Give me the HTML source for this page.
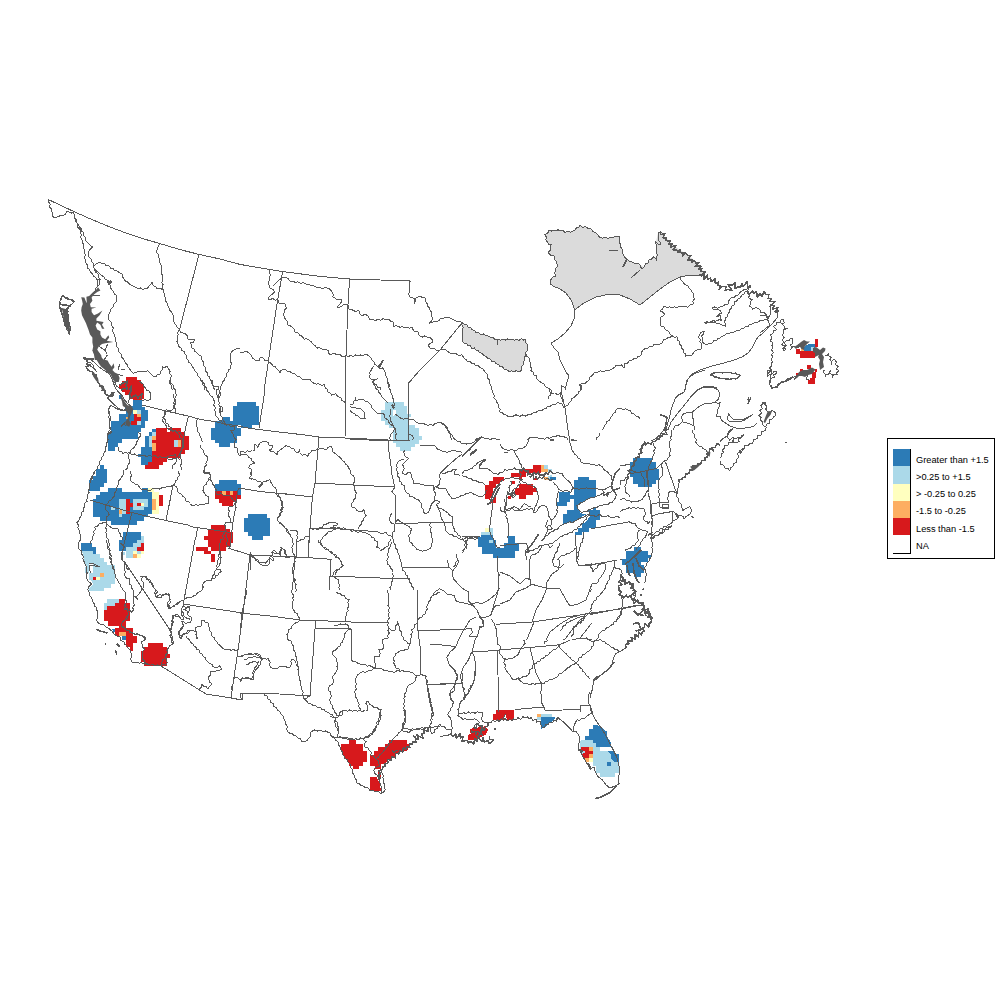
<!DOCTYPE html>
<html><head><meta charset="utf-8"><title>map</title>
<style>
html,body{margin:0;padding:0;background:#fff;}
body{width:1000px;height:1000px;position:relative;overflow:hidden;font-family:"Liberation Sans",sans-serif;}
</style></head><body>
<svg width="1000" height="1000" viewBox="0 0 1000 1000" style="position:absolute;left:0;top:0">
<path d="M126.0 377.0 L137.0 377.0 L137.0 380.0 L141.0 380.0 L141.0 384.0 L144.0 384.0 L144.0 399.0 L142.0 399.0 L142.0 402.0 L133.0 402.0 L133.0 399.0 L130.0 399.0 L130.0 395.0 L125.0 395.0 L125.0 391.5 L122.0 391.5 L122.0 388.5 L119.0 388.5 L119.0 384.5 L122.0 384.5 L122.0 380.5 L126.0 380.5 Z" fill="#d7191c" shape-rendering="crispEdges"/>
<path d="M133.0 400.0 L142.0 400.0 L142.0 406.5 L144.5 406.5 L144.5 410.0 L148.0 410.0 L148.0 421.0 L144.5 421.0 L144.5 428.0 L141.0 428.0 L141.0 432.0 L138.0 432.0 L138.0 439.0 L122.0 439.0 L122.0 443.0 L118.0 443.0 L118.0 447.0 L115.0 447.0 L115.0 450.5 L107.5 450.5 L107.5 432.0 L111.0 432.0 L111.0 421.0 L119.0 421.0 L119.0 414.0 L126.0 414.0 L126.0 410.0 L125.0 410.0 L125.0 406.0 L133.0 406.0 Z" fill="#2c7bb6" shape-rendering="crispEdges"/>
<path d="M119.0 395.0 L122.0 395.0 L122.0 398.5 L119.0 398.5 Z" fill="#2c7bb6" shape-rendering="crispEdges"/>
<path d="M133.0 410.0 L137.0 410.0 L137.0 414.0 L133.0 414.0 Z" fill="#ffffbf" shape-rendering="crispEdges"/>
<path d="M137.0 410.0 L141.0 410.0 L141.0 414.0 L137.0 414.0 Z" fill="#abd9e9" shape-rendering="crispEdges"/>
<path d="M137.0 414.0 L141.0 414.0 L141.0 417.0 L137.0 417.0 Z" fill="#fdae61" shape-rendering="crispEdges"/>
<path d="M134.0 414.0 L137.0 414.0 L137.0 417.0 L141.0 417.0 L141.0 421.0 L137.0 421.0 L137.0 425.0 L131.0 425.0 L131.0 421.0 L134.0 421.0 Z" fill="#d7191c" shape-rendering="crispEdges"/>
<path d="M137.0 421.0 L141.0 421.0 L141.0 425.0 L137.0 425.0 Z" fill="#abd9e9" shape-rendering="crispEdges"/>
<path d="M126.0 416.5 L128.5 416.5 L128.5 419.0 L126.0 419.0 Z" fill="#fdae61" shape-rendering="crispEdges"/>
<path d="M156.0 428.0 L181.0 428.0 L181.0 432.0 L184.5 432.0 L184.5 436.0 L189.0 436.0 L189.0 450.0 L184.5 450.0 L184.5 454.0 L181.0 454.0 L181.0 458.0 L166.5 458.0 L166.5 461.5 L163.0 461.5 L163.0 465.0 L159.0 465.0 L159.0 468.5 L144.5 468.5 L144.5 465.0 L148.0 465.0 L148.0 461.5 L152.0 461.5 L152.0 432.0 L156.0 432.0 Z" fill="#d7191c" shape-rendering="crispEdges"/>
<path d="M167.0 428.5 L170.0 428.5 L170.0 431.5 L167.0 431.5 Z" fill="#ffffff" shape-rendering="crispEdges"/>
<path d="M152.0 428.5 L156.0 428.5 L156.0 432.0 L152.0 432.0 Z" fill="#2c7bb6" shape-rendering="crispEdges"/>
<path d="M148.5 432.0 L152.0 432.0 L152.0 436.0 L148.5 436.0 Z" fill="#2c7bb6" shape-rendering="crispEdges"/>
<path d="M152.0 432.0 L156.0 432.0 L156.0 436.0 L152.0 436.0 Z" fill="#abd9e9" shape-rendering="crispEdges"/>
<path d="M144.5 436.0 L148.5 436.0 L148.5 447.0 L144.5 447.0 Z" fill="#2c7bb6" shape-rendering="crispEdges"/>
<path d="M148.5 436.0 L152.0 436.0 L152.0 447.0 L148.5 447.0 Z" fill="#abd9e9" shape-rendering="crispEdges"/>
<path d="M152.0 436.0 L156.0 436.0 L156.0 440.0 L152.0 440.0 Z" fill="#fdae61" shape-rendering="crispEdges"/>
<path d="M152.0 443.0 L156.0 443.0 L156.0 450.5 L152.0 450.5 Z" fill="#fdae61" shape-rendering="crispEdges"/>
<path d="M141.0 447.0 L152.0 447.0 L152.0 465.0 L141.0 465.0 L141.0 457.0 L137.5 457.0 L137.5 454.0 L141.0 454.0 Z" fill="#2c7bb6" shape-rendering="crispEdges"/>
<path d="M148.0 461.5 L152.0 461.5 L152.0 465.0 L148.0 465.0 Z" fill="#d7191c" shape-rendering="crispEdges"/>
<path d="M174.0 440.0 L178.0 440.0 L178.0 447.0 L174.0 447.0 Z" fill="#abd9e9" shape-rendering="crispEdges"/>
<path d="M178.0 440.0 L181.0 440.0 L181.0 447.0 L178.0 447.0 Z" fill="#fdae61" shape-rendering="crispEdges"/>
<path d="M100.0 465.0 L104.0 465.0 L104.0 468.5 L107.0 468.5 L107.0 470.0 L97.0 470.0 L97.0 468.5 L100.0 468.5 Z" fill="#2c7bb6" shape-rendering="crispEdges"/>
<path d="M100.0 465.0 L104.0 465.0 L104.0 469.0 L107.0 469.0 L107.0 483.0 L104.0 483.0 L104.0 487.0 L100.0 487.0 L100.0 490.5 L89.0 490.5 L89.0 480.0 L93.0 480.0 L93.0 476.0 L96.0 476.0 L96.0 469.0 L100.0 469.0 Z" fill="#2c7bb6" shape-rendering="crispEdges"/>
<path d="M107.5 488.0 L122.0 488.0 L122.0 491.5 L141.5 491.5 L141.5 488.0 L148.0 488.0 L148.0 491.5 L152.0 491.5 L152.0 514.0 L148.0 514.0 L148.0 517.0 L144.0 517.0 L144.0 520.5 L137.0 520.5 L137.0 524.5 L111.0 524.5 L111.0 520.5 L100.0 520.5 L100.0 516.5 L93.0 516.5 L93.0 499.0 L96.0 499.0 L96.0 495.0 L100.0 495.0 L100.0 491.5 L107.5 491.5 Z" fill="#2c7bb6" shape-rendering="crispEdges"/>
<path d="M119.0 499.0 L126.0 499.0 L126.0 514.0 L122.0 514.0 L122.0 517.0 L119.0 517.0 Z" fill="#abd9e9" shape-rendering="crispEdges"/>
<path d="M126.0 499.0 L130.0 499.0 L130.0 503.0 L133.0 503.0 L133.0 506.5 L130.0 506.5 L130.0 514.0 L126.0 514.0 Z" fill="#d7191c" shape-rendering="crispEdges"/>
<path d="M133.0 499.0 L148.0 499.0 L148.0 506.5 L144.0 506.5 L144.0 510.0 L133.0 510.0 Z" fill="#abd9e9" shape-rendering="crispEdges"/>
<path d="M137.0 503.0 L141.0 503.0 L141.0 506.0 L137.0 506.0 Z" fill="#d7191c" shape-rendering="crispEdges"/>
<path d="M141.0 503.0 L144.0 503.0 L144.0 506.0 L141.0 506.0 Z" fill="#ffffbf" shape-rendering="crispEdges"/>
<path d="M119.0 510.0 L122.0 510.0 L122.0 514.0 L119.0 514.0 Z" fill="#fdae61" shape-rendering="crispEdges"/>
<path d="M111.0 506.5 L115.0 506.5 L115.0 510.0 L111.0 510.0 Z" fill="#abd9e9" shape-rendering="crispEdges"/>
<path d="M148.0 488.0 L154.0 488.0 L154.0 491.5 L159.0 491.5 L159.0 514.0 L152.0 514.0 L152.0 491.5 L148.0 491.5 Z" fill="#ffffbf" shape-rendering="crispEdges"/>
<path d="M152.0 499.0 L156.0 499.0 L156.0 510.0 L152.0 510.0 Z" fill="#fdae61" shape-rendering="crispEdges"/>
<path d="M159.0 495.0 L163.0 495.0 L163.0 506.0 L159.0 506.0 Z" fill="#d7191c" shape-rendering="crispEdges"/>
<path d="M122.5 532.0 L141.0 532.0 L141.0 539.5 L137.0 539.5 L137.0 543.0 L133.0 543.0 L133.0 547.0 L126.0 547.0 L126.0 551.0 L119.0 551.0 L119.0 540.0 L122.5 540.0 Z" fill="#2c7bb6" shape-rendering="crispEdges"/>
<path d="M141.0 536.0 L144.0 536.0 L144.0 543.0 L141.0 543.0 L141.0 547.0 L137.0 547.0 L137.0 554.0 L133.0 554.0 L133.0 558.0 L126.0 558.0 L126.0 547.0 L133.0 547.0 L133.0 543.0 L137.0 543.0 L137.0 539.5 L141.0 539.5 Z" fill="#abd9e9" shape-rendering="crispEdges"/>
<path d="M141.0 543.0 L144.0 543.0 L144.0 551.0 L137.0 551.0 L137.0 547.0 L141.0 547.0 Z" fill="#d7191c" shape-rendering="crispEdges"/>
<path d="M133.0 551.0 L137.0 551.0 L137.0 554.0 L133.0 554.0 Z" fill="#ffffbf" shape-rendering="crispEdges"/>
<path d="M137.0 551.0 L141.0 551.0 L141.0 554.0 L137.0 554.0 Z" fill="#abd9e9" shape-rendering="crispEdges"/>
<path d="M141.0 551.0 L144.0 551.0 L144.0 554.0 L141.0 554.0 Z" fill="#ffffbf" shape-rendering="crispEdges"/>
<path d="M133.0 554.0 L137.0 554.0 L137.0 558.0 L133.0 558.0 Z" fill="#fdae61" shape-rendering="crispEdges"/>
<path d="M137.0 554.0 L141.0 554.0 L141.0 558.0 L137.0 558.0 Z" fill="#ffffbf" shape-rendering="crispEdges"/>
<path d="M122.0 551.5 L124.5 551.5 L124.5 554.5 L122.0 554.5 Z" fill="#abd9e9" shape-rendering="crispEdges"/>
<path d="M90.0 547.0 L96.0 547.0 L96.0 554.0 L93.0 554.0 L93.0 551.0 L90.0 551.0 Z" fill="#2c7bb6" shape-rendering="crispEdges"/>
<path d="M81.0 543.0 L92.0 543.0 L92.0 547.0 L96.0 547.0 L96.0 554.0 L93.0 554.0 L93.0 550.5 L81.0 550.5 Z" fill="#2c7bb6" shape-rendering="crispEdges"/>
<path d="M82.0 550.5 L93.0 550.5 L93.0 554.0 L100.0 554.0 L100.0 558.0 L103.5 558.0 L103.5 561.5 L107.0 561.5 L107.0 565.0 L115.0 565.0 L115.0 584.0 L111.0 584.0 L111.0 587.5 L104.0 587.5 L104.0 591.0 L89.0 591.0 L89.0 588.0 L93.0 584.0 L91.0 580.0 L89.0 580.0 L89.0 573.0 L85.0 573.0 L85.0 569.0 L86.0 565.0 L84.0 560.0 L83.0 555.0 Z" fill="#abd9e9" shape-rendering="crispEdges"/>
<path d="M89.0 563.5 L92.5 563.5 L93.0 573.0 L89.5 573.0 Z" fill="#ffffff" shape-rendering="crispEdges"/>
<path d="M100.0 573.0 L104.0 573.0 L104.0 577.0 L100.0 577.0 Z" fill="#fdae61" shape-rendering="crispEdges"/>
<path d="M93.0 577.0 L96.0 577.0 L96.0 580.0 L93.0 580.0 Z" fill="#d7191c" shape-rendering="crispEdges"/>
<path d="M96.0 577.0 L100.0 577.0 L100.0 580.0 L96.0 580.0 Z" fill="#ffffbf" shape-rendering="crispEdges"/>
<path d="M119.0 599.0 L125.0 599.0 L125.0 603.0 L130.0 603.0 L130.0 621.0 L126.0 621.0 L126.0 625.5 L107.5 625.5 L107.5 621.0 L104.0 621.0 L104.0 610.0 L107.0 610.0 L107.0 606.0 L115.0 606.0 L115.0 603.0 L119.0 603.0 Z" fill="#d7191c" shape-rendering="crispEdges"/>
<path d="M107.0 599.0 L119.0 599.0 L119.0 603.0 L115.0 603.0 L115.0 606.0 L107.0 606.0 L107.0 610.0 L104.0 610.0 L104.0 603.0 L107.0 603.0 Z" fill="#abd9e9" shape-rendering="crispEdges"/>
<path d="M115.0 628.0 L119.0 628.0 L119.0 625.0 L126.0 625.0 L126.0 628.0 L133.0 628.0 L133.0 636.0 L137.0 636.0 L137.0 643.0 L133.0 643.0 L133.0 651.0 L130.0 651.0 L130.0 647.0 L126.0 647.0 L126.0 632.0 L119.0 632.0 L119.0 635.5 L115.0 635.5 Z" fill="#d7191c" shape-rendering="crispEdges"/>
<path d="M119.0 632.0 L126.0 632.0 L126.0 636.0 L119.0 636.0 Z" fill="#fdae61" shape-rendering="crispEdges"/>
<path d="M122.0 636.0 L126.0 636.0 L126.0 640.0 L122.0 640.0 Z" fill="#2c7bb6" shape-rendering="crispEdges"/>
<path d="M111.5 628.5 L115.0 628.5 L115.0 632.0 L113.5 632.0 Z" fill="#2c7bb6" shape-rendering="crispEdges"/>
<path d="M148.0 643.0 L163.0 643.0 L163.0 647.0 L167.0 647.0 L167.0 654.0 L170.0 654.0 L170.0 658.0 L167.0 658.0 L167.0 666.0 L144.0 666.0 L144.0 662.0 L141.0 662.0 L141.0 651.0 L144.0 651.0 L144.0 647.0 L148.0 647.0 Z" fill="#d7191c" shape-rendering="crispEdges"/>
<path d="M237.0 402.0 L256.0 402.0 L256.0 406.0 L259.0 406.0 L259.0 424.5 L252.0 424.5 L252.0 428.0 L241.0 428.0 L241.0 424.5 L233.0 424.5 L233.0 406.0 L237.0 406.0 Z" fill="#2c7bb6" shape-rendering="crispEdges"/>
<path d="M222.0 417.0 L230.0 417.0 L230.0 421.0 L233.0 421.0 L233.0 424.5 L241.0 424.5 L241.0 435.5 L237.0 435.5 L237.0 443.0 L230.0 443.0 L230.0 446.5 L219.0 446.5 L219.0 443.0 L215.0 443.0 L215.0 439.5 L211.0 439.5 L211.0 428.0 L215.0 428.0 L215.0 421.0 L222.0 421.0 Z" fill="#2c7bb6" shape-rendering="crispEdges"/>
<path d="M237.2 425.2 L241.0 425.2 L241.0 427.8 L237.2 427.8 Z" fill="#ffffff" shape-rendering="crispEdges"/>
<path d="M219.0 480.0 L237.0 480.0 L237.0 484.0 L241.0 484.0 L241.0 495.0 L237.0 495.0 L237.0 491.0 L215.0 491.0 L215.0 484.0 L219.0 484.0 Z" fill="#2c7bb6" shape-rendering="crispEdges"/>
<path d="M215.0 491.0 L237.0 491.0 L237.0 495.0 L241.0 495.0 L241.0 498.5 L237.0 498.5 L237.0 502.0 L233.0 502.0 L233.0 506.0 L222.0 506.0 L222.0 502.5 L219.0 502.5 L219.0 498.5 L215.0 498.5 Z" fill="#d7191c" shape-rendering="crispEdges"/>
<path d="M222.0 491.0 L226.0 491.0 L226.0 494.5 L222.0 494.5 Z" fill="#fdae61" shape-rendering="crispEdges"/>
<path d="M230.0 491.0 L233.0 491.0 L233.0 494.5 L230.0 494.5 Z" fill="#fdae61" shape-rendering="crispEdges"/>
<path d="M248.0 514.0 L267.0 514.0 L267.0 517.5 L270.0 517.5 L270.0 536.0 L263.0 536.0 L263.0 540.0 L252.0 540.0 L252.0 536.0 L248.0 536.0 L248.0 532.0 L244.0 532.0 L244.0 517.5 L248.0 517.5 Z" fill="#2c7bb6" shape-rendering="crispEdges"/>
<path d="M211.0 525.0 L225.5 525.0 L225.5 528.5 L230.0 528.5 L230.0 532.0 L233.0 532.0 L233.0 543.0 L230.0 543.0 L230.0 547.0 L226.0 547.0 L226.0 551.0 L211.0 551.0 L211.0 547.0 L207.5 547.0 L207.5 540.0 L204.0 540.0 L204.0 536.0 L207.5 536.0 L207.5 528.5 L211.0 528.5 Z" fill="#d7191c" shape-rendering="crispEdges"/>
<path d="M196.0 547.0 L207.5 547.0 L207.5 551.0 L196.0 551.0 Z" fill="#d7191c" shape-rendering="crispEdges"/>
<path d="M204.0 551.0 L211.0 551.0 L211.0 554.0 L204.0 554.0 Z" fill="#d7191c" shape-rendering="crispEdges"/>
<path d="M211.0 554.0 L215.0 554.0 L215.0 562.0 L211.0 562.0 Z" fill="#d7191c" shape-rendering="crispEdges"/>
<path d="M385.0 402.0 L404.0 402.0 L404.0 406.0 L407.0 406.0 L407.0 414.0 L411.0 414.0 L411.0 417.0 L408.0 417.0 L408.0 425.0 L415.0 425.0 L415.0 428.0 L419.0 428.0 L419.0 436.0 L422.0 436.0 L422.0 440.0 L419.0 440.0 L419.0 444.0 L415.0 444.0 L415.0 447.0 L411.0 447.0 L411.0 451.0 L400.0 451.0 L400.0 447.0 L396.0 447.0 L396.0 443.0 L393.0 443.0 L393.0 432.0 L394.0 428.0 L389.0 428.0 L389.0 425.0 L385.0 425.0 L385.0 421.0 L381.0 421.0 L381.0 410.0 L385.0 410.0 Z" fill="#abd9e9" shape-rendering="crispEdges"/>
<path d="M393.2 410.0 L396.0 410.0 L396.0 414.5 L393.5 416.0 Z" fill="#ffffff" shape-rendering="crispEdges"/>
<path d="M493.0 477.0 L504.0 477.0 L504.0 481.0 L500.0 481.0 L500.0 484.0 L496.0 484.0 L496.0 488.0 L493.0 488.0 L493.0 492.0 L496.0 492.0 L496.0 502.5 L489.0 502.5 L489.0 499.0 L485.0 499.0 L485.0 484.5 L489.0 484.5 L489.0 480.5 L493.0 480.5 Z" fill="#d7191c" shape-rendering="crispEdges"/>
<path d="M504.0 481.0 L504.0 483.0 L498.0 490.0 L495.0 496.0 L490.0 503.0 L487.0 504.5 L493.0 494.0 L496.0 488.0 L500.0 484.0 Z" fill="#ffffff" shape-rendering="crispEdges"/>
<path d="M511.0 473.0 L519.0 473.0 L519.0 469.0 L533.0 469.0 L533.0 465.0 L541.0 465.0 L541.0 473.0 L526.0 473.0 L526.0 477.0 L522.0 477.0 L522.0 480.0 L519.0 480.0 L519.0 477.0 L511.0 477.0 Z" fill="#d7191c" shape-rendering="crispEdges"/>
<path d="M541.0 465.0 L544.0 465.0 L544.0 468.5 L548.0 468.5 L548.0 472.0 L541.0 472.0 Z" fill="#fdae61" shape-rendering="crispEdges"/>
<path d="M544.0 465.0 L548.0 465.0 L548.0 468.5 L552.0 468.5 L552.0 472.0 L548.0 472.0 L548.0 468.5 L544.0 468.5 Z" fill="#abd9e9" shape-rendering="crispEdges"/>
<path d="M511.5 480.5 L514.5 480.5 L514.5 484.0 L511.5 484.0 Z" fill="#d7191c" shape-rendering="crispEdges"/>
<path d="M519.0 484.0 L533.0 484.0 L533.0 488.0 L537.0 488.0 L537.0 491.5 L533.0 491.5 L533.0 495.0 L526.0 495.0 L526.0 499.0 L519.0 499.0 L519.0 495.0 L515.0 495.0 L515.0 488.0 L519.0 488.0 Z" fill="#d7191c" shape-rendering="crispEdges"/>
<path d="M508.0 495.5 L511.0 495.5 L511.0 499.0 L508.0 499.0 Z" fill="#d7191c" shape-rendering="crispEdges"/>
<path d="M533.5 478.0 L537.0 478.0 L537.0 480.0 L533.5 480.0 Z" fill="#d7191c" shape-rendering="crispEdges"/>
<path d="M544.0 476.5 L548.0 476.5 L548.0 480.0 L544.0 480.0 Z" fill="#fdae61" shape-rendering="crispEdges"/>
<path d="M548.0 475.0 L552.0 475.0 L552.0 480.0 L548.0 480.0 Z" fill="#abd9e9" shape-rendering="crispEdges"/>
<path d="M553.5 477.0 L556.0 477.0 L556.0 480.0 L553.5 480.0 Z" fill="#2c7bb6" shape-rendering="crispEdges"/>
<path d="M528.0 473.2 L550.0 473.2 L550.0 476.2 L528.0 476.2 Z" fill="#ffffff" shape-rendering="crispEdges"/>
<path d="M481.0 537.0 L481.0 535.0 L493.0 535.0 L493.0 540.0 L496.0 540.0 L496.0 547.5 L504.0 547.5 L504.0 543.0 L507.5 543.0 L507.5 536.0 L515.0 536.0 L515.0 543.0 L519.0 543.0 L519.0 551.0 L515.0 551.0 L515.0 558.0 L493.0 558.0 L493.0 554.0 L482.0 554.0 L482.0 547.0 L478.0 547.0 L478.0 537.0 Z" fill="#2c7bb6" shape-rendering="crispEdges"/>
<path d="M481.0 532.0 L489.0 532.0 L489.0 528.0 L493.0 528.0 L493.0 535.0 L481.0 535.0 Z" fill="#abd9e9" shape-rendering="crispEdges"/>
<path d="M485.0 528.0 L489.0 528.0 L489.0 532.0 L485.0 532.0 Z" fill="#ffffbf" shape-rendering="crispEdges"/>
<path d="M489.0 540.0 L492.5 540.0 L492.5 543.0 L489.0 543.0 Z" fill="#abd9e9" shape-rendering="crispEdges"/>
<path d="M578.2 477.2 L589.0 477.2 L589.0 480.2 L596.2 480.2 L596.2 496.4 L589.0 499.4 L584.8 503.0 L580.0 506.0 L574.0 506.0 L574.0 498.8 L569.8 498.8 L569.8 502.4 L566.8 502.4 L566.8 506.0 L557.2 506.0 L557.2 502.4 L559.0 502.4 L559.0 491.6 L569.8 491.6 L569.8 494.6 L574.0 494.6 L574.0 480.2 L578.2 480.2 Z" fill="#2c7bb6" shape-rendering="crispEdges"/>
<path d="M566.8 510.2 L574.0 510.2 L574.0 506.0 L580.0 506.0 L580.0 513.2 L586.0 514.4 L574.0 521.6 L574.0 524.6 L563.2 524.6 L563.2 513.8 L566.8 513.8 Z" fill="#2c7bb6" shape-rendering="crispEdges"/>
<path d="M593.2 506.6 L596.2 506.6 L596.2 510.2 L599.8 510.2 L599.8 519.8 L596.2 519.8 L596.2 528.2 L589.0 528.2 L589.0 531.8 L581.8 531.8 L581.8 535.4 L575.2 535.4 L575.2 531.8 L578.2 531.8 L578.2 528.2 L581.8 528.2 L581.8 524.6 L586.0 521.6 L589.6 516.8 L588.4 512.0 L588.4 510.2 L593.2 510.2 Z" fill="#2c7bb6" shape-rendering="crispEdges"/>
<path d="M633.4 458.0 L652.0 458.0 L652.0 461.6 L655.6 461.6 L655.6 468.8 L659.2 468.8 L659.2 480.2 L655.6 480.2 L655.6 483.8 L652.0 483.8 L652.0 487.4 L637.6 487.4 L637.6 483.8 L633.4 483.8 L633.4 476.6 L629.8 476.6 L629.8 461.6 L633.4 461.6 Z" fill="#2c7bb6" shape-rendering="crispEdges"/>
<path d="M550.0 469.4 L551.8 469.4 L551.8 472.4 L550.0 472.4 Z" fill="#abd9e9" shape-rendering="crispEdges"/>
<path d="M550.0 477.2 L555.4 477.2 L555.4 479.6 L550.0 479.6 Z" fill="#2c7bb6" shape-rendering="crispEdges"/>
<path d="M633.5 547.0 L641.0 547.0 L641.0 551.0 L648.0 551.0 L648.0 554.5 L651.0 554.5 L651.0 558.0 L648.0 558.0 L648.0 562.0 L641.0 562.0 L641.0 565.0 L644.0 565.0 L644.0 573.0 L641.0 573.0 L641.0 577.0 L634.0 577.0 L634.0 573.0 L626.0 573.0 L626.0 565.0 L622.0 565.0 L622.0 558.5 L626.0 558.5 L626.0 551.0 L633.5 551.0 Z" fill="#2c7bb6" shape-rendering="crispEdges"/>
<path d="M590.0 520.0 L596.0 520.0 L596.0 527.5 L590.0 528.0 Z" fill="#2c7bb6" shape-rendering="crispEdges"/>
<path d="M348.5 740.0 L356.0 740.0 L356.0 743.5 L363.0 743.5 L363.0 751.0 L367.0 751.0 L367.0 762.0 L363.0 762.0 L363.0 765.5 L359.0 765.5 L359.0 769.0 L352.5 769.0 L352.5 765.5 L348.5 765.5 L348.5 762.0 L345.0 758.0 L342.0 754.0 L341.0 750.0 L341.0 743.5 L348.5 743.5 Z" fill="#d7191c" shape-rendering="crispEdges"/>
<path d="M389.0 740.0 L407.0 740.0 L407.0 743.5 L411.0 743.5 L409.0 747.0 L407.0 751.0 L404.0 751.0 L400.0 752.0 L396.0 754.0 L396.0 757.5 L392.0 758.0 L389.0 760.0 L386.0 762.0 L384.0 764.0 L381.0 764.5 L381.0 769.0 L375.0 769.0 L375.0 766.0 L370.0 766.0 L370.0 756.0 L371.0 754.5 L374.0 754.5 L374.0 751.0 L378.0 751.0 L378.0 747.0 L385.0 747.0 L385.0 743.5 L389.0 743.5 Z" fill="#d7191c" shape-rendering="crispEdges"/>
<path d="M378.0 772.0 L381.0 772.0 L381.0 777.0 L378.0 777.0 Z" fill="#d7191c" shape-rendering="crispEdges"/>
<path d="M370.0 777.0 L377.0 777.0 L378.0 780.0 L380.0 784.0 L381.0 791.0 L370.0 791.0 Z" fill="#d7191c" shape-rendering="crispEdges"/>
<path d="M496.4 710.2 L514.4 710.2 L514.4 718.0 L512.0 720.4 L507.2 720.4 L505.4 714.4 L503.6 716.8 L503.6 720.4 L493.4 720.4 L493.4 714.4 L496.4 714.4 Z" fill="#d7191c" shape-rendering="crispEdges"/>
<path d="M470.0 728.8 L484.4 726.4 L488.0 730.0 L485.6 734.8 L480.8 737.2 L477.2 739.6 L467.6 739.6 L467.6 736.0 L470.6 733.6 Z" fill="#d7191c" shape-rendering="crispEdges"/>
<path d="M537.2 714.2 L540.8 714.2 L540.8 716.8 L537.2 716.8 Z" fill="#fdae61" shape-rendering="crispEdges"/>
<path d="M540.8 714.2 L552.2 714.2 L552.2 716.8 L540.8 716.8 L540.8 720.4 L537.2 720.4 L537.2 716.8 L540.8 716.8 Z" fill="#abd9e9" shape-rendering="crispEdges"/>
<path d="M540.8 716.8 L555.8 716.8 L553.4 720.4 L548.0 724.6 L544.4 727.6 L541.4 728.8 L540.8 724.0 Z" fill="#2c7bb6" shape-rendering="crispEdges"/>
<path d="M592.8 725.0 L597.6 725.0 L603.6 729.0 L607.2 732.0 L607.2 736.2 L610.8 742.8 L610.8 747.0 L596.4 747.0 L596.4 742.8 L592.8 742.8 L592.8 739.8 L585.0 739.8 L585.0 736.2 L589.2 736.2 L589.2 729.0 L592.8 729.0 Z" fill="#2c7bb6" shape-rendering="crispEdges"/>
<path d="M581.4 739.8 L592.8 739.8 L592.8 742.8 L596.4 742.8 L596.4 747.0 L600.0 747.0 L600.0 750.6 L607.2 750.6 L610.8 754.8 L610.8 758.4 L615.0 762.0 L618.6 762.0 L618.6 772.8 L615.0 772.8 L615.0 777.0 L600.0 777.0 L600.0 772.8 L596.4 772.8 L596.4 765.6 L592.8 765.6 L592.8 762.0 L585.0 762.0 L585.0 758.4 L581.4 754.8 L579.6 747.0 L579.6 742.8 Z" fill="#abd9e9" shape-rendering="crispEdges"/>
<path d="M600.0 747.0 L610.8 747.0 L613.2 750.6 L600.0 750.6 Z" fill="#ffffff" shape-rendering="crispEdges"/>
<path d="M607.2 750.6 L614.4 750.6 L615.0 754.2 L618.6 754.2 L618.6 762.0 L615.0 762.0 L610.8 758.4 L610.8 754.8 Z" fill="#2c7bb6" shape-rendering="crispEdges"/>
<path d="M607.2 762.0 L610.8 762.0 L610.8 765.6 L607.2 765.6 Z" fill="#2c7bb6" shape-rendering="crispEdges"/>
<path d="M581.4 747.0 L589.2 747.0 L589.2 750.6 L592.8 750.6 L592.8 754.2 L589.2 754.2 L589.2 758.4 L585.0 758.4 L583.2 757.2 L583.2 754.8 L581.4 754.8 L585.0 752.4 L585.0 750.6 L581.4 750.6 Z" fill="#d7191c" shape-rendering="crispEdges"/>
<path d="M589.2 747.0 L592.8 747.0 L592.8 750.6 L589.2 750.6 Z" fill="#fdae61" shape-rendering="crispEdges"/>
<path d="M589.2 754.2 L592.8 754.2 L592.8 758.4 L589.2 758.4 Z" fill="#fdae61" shape-rendering="crispEdges"/>
<path d="M585.0 758.4 L589.2 758.4 L589.2 762.0 L585.0 762.0 Z" fill="#fdae61" shape-rendering="crispEdges"/>
<path d="M589.2 758.4 L592.8 758.4 L592.8 762.0 L589.2 762.0 Z" fill="#ffffbf" shape-rendering="crispEdges"/>
<path d="M562.4 524.6 L567.2 522.8 L574.4 521.6 L578.0 519.2 L584.0 516.8 L588.8 514.4 L589.4 515.0 L586.4 519.2 L581.6 524.0 L576.8 528.8 L572.0 532.4 L567.2 534.2 L562.4 536.0 L557.6 539.6 L552.8 543.2 L557.6 528.8 Z" fill="#ffffff"/>
<path d="M576.8 505.4 L581.6 502.4 L588.8 498.8 L596.0 496.4 L602.0 494.0 L608.0 492.8 L608.0 504.8 L602.0 505.4 L594.8 507.2 L588.8 509.6 L584.0 512.0 L579.2 510.8 L578.0 509.0 Z" fill="#ffffff"/>
<path d="M549.0 230.6 L560.0 230.0 L565.0 232.4 L573.0 231.0 L580.0 225.6 L588.0 228.0 L593.0 231.0 L598.0 235.0 L600.0 237.6 L610.0 238.0 L616.0 236.0 L619.6 237.0 L619.0 240.0 L621.0 247.0 L623.0 254.0 L627.0 259.0 L632.0 262.0 L640.0 265.0 L640.0 305.0 L630.0 299.0 L620.0 295.0 L608.0 294.4 L596.0 297.0 L584.0 303.0 L574.4 310.0 L573.6 306.0 L571.0 300.0 L566.0 293.0 L560.0 289.0 L553.0 286.0 L550.0 282.0 L552.0 278.0 L556.0 276.0 L555.0 271.0 L558.0 266.0 L556.0 261.0 L554.0 256.0 L549.0 254.0 L551.0 245.0 L547.0 242.0 L545.0 235.0 Z" fill="#dbdbdb"/>
<path d="M462.4 322.4 L476.0 332.4 L488.0 336.0 L498.0 339.6 L510.0 339.6 L526.0 339.6 L527.6 348.0 L525.0 356.0 L521.0 371.0 L509.0 371.4 L500.0 366.0 L488.0 358.0 L476.0 350.0 L462.4 341.6 Z" fill="#dbdbdb"/>
<path d="M640.0 265.0 L644.0 267.0 L646.0 264.0 L651.0 259.0 L656.0 257.0 L657.0 250.0 L656.0 242.0 L658.0 233.0 L661.0 231.6 L666.0 238.0 L672.0 244.0 L680.0 250.0 L688.0 255.0 L696.0 262.0 L702.0 269.0 L704.0 276.0 L700.0 275.0 L690.0 275.0 L680.0 277.0 L670.0 282.0 L660.0 289.0 L650.0 297.0 L640.0 305.0 Z" fill="#dbdbdb"/>
<path d="M796.0 349.0 L800.0 349.0 L800.0 351.0 L815.0 351.0 L815.0 357.5 L800.0 357.5 L800.0 353.5 L796.0 353.5 Z" fill="#d7191c" shape-rendering="crispEdges"/>
<path d="M815.0 339.0 L817.8 339.0 L817.8 346.5 L815.0 346.5 Z" fill="#d7191c" shape-rendering="crispEdges"/>
<path d="M804.0 351.0 L804.0 347.0 L809.0 343.5 L815.0 343.5 L815.0 351.0 Z" fill="#2c7bb6" shape-rendering="crispEdges"/>
<path d="M811.0 347.2 L814.0 347.2 L814.0 351.0 L811.0 351.0 Z" fill="#abd9e9" shape-rendering="crispEdges"/>
<path d="M800.5 347.5 L804.0 347.5 L804.0 351.0 L800.5 351.0 Z" fill="#fdae61" shape-rendering="crispEdges"/>
<path d="M807.0 365.0 L811.0 365.0 L811.0 369.0 L807.0 369.0 Z" fill="#d7191c" shape-rendering="crispEdges"/>
<path d="M800.0 369.0 L803.0 369.0 L803.0 371.5 L800.0 371.5 Z" fill="#d7191c" shape-rendering="crispEdges"/>
<path d="M796.0 373.0 L799.0 373.0 L799.0 376.0 L796.0 376.0 Z" fill="#d7191c" shape-rendering="crispEdges"/>
<path d="M814.5 369.0 L817.0 369.0 L817.0 372.0 L816.0 372.0 L816.0 378.0 L814.5 378.0 L814.5 382.0 L815.0 382.0 L815.0 384.0 L807.5 384.0 L807.5 380.0 L810.0 380.0 L810.0 378.0 L812.0 378.0 L812.0 372.0 L814.5 372.0 Z" fill="#d7191c" shape-rendering="crispEdges"/>
<path d="M801.0 342.0 L804.0 340.0 L807.0 341.5 L810.0 341.5 L807.0 344.0 L804.5 347.0 L804.0 350.0 L801.5 349.0 L799.5 346.0 L796.0 349.0 L794.0 347.0 L798.0 344.5 Z" fill="#595959"/>
<path d="M813.0 348.0 L816.0 347.0 L820.0 350.0 L823.0 347.5 L825.5 348.5 L825.0 351.0 L822.0 354.0 L824.0 357.0 L823.0 362.0 L824.0 367.0 L820.0 370.0 L819.0 364.0 L820.0 360.0 L818.0 357.0 L819.0 355.0 L815.0 357.0 L815.0 353.0 L813.0 352.0 Z" fill="#595959"/>
<path d="M799.0 372.0 L803.0 370.0 L807.0 370.0 L812.0 367.5 L815.5 369.5 L812.0 374.0 L808.0 375.0 L805.0 377.0 L802.0 376.0 L799.0 376.0 L797.0 378.0 L795.0 379.0 Z" fill="#595959"/>
<path d="M767.8 411.3 L772.0 410.9 L770.6 414.8 L767.1 419.0 L765.0 423.2 L763.6 421.8 L765.7 416.2 Z" fill="#595959"/>
<path d="M690.1 466.6 L695.0 465.2 L702.0 463.1 L697.8 467.3 L693.6 470.8 L691.5 468.7 Z" fill="#595959"/>
<path d="M706.9 451.2 L710.4 451.9 L709.7 456.8 L707.6 455.4 Z" fill="#595959"/>
<path d="M61.9 308.0 L64.0 320.6 L68.9 333.9 L70.3 330.4 L68.2 319.2 L67.5 309.4 Z" fill="#595959"/>
<path d="M98.0 287.2 L100.4 290.4 L97.2 292.0 L94.0 294.4 L91.6 297.6 L92.4 300.8 L90.0 304.0 L90.8 307.2 L96.4 307.6 L91.6 308.8 L91.6 312.0 L94.0 315.2 L98.0 313.6 L102.4 310.4 L99.6 315.2 L96.4 318.4 L96.4 320.8 L103.6 322.0 L102.0 324.8 L104.4 328.8 L102.0 328.8 L100.4 324.8 L97.2 322.4 L95.6 325.6 L97.2 329.6 L100.4 331.2 L100.4 334.4 L102.0 337.6 L105.2 339.2 L108.4 335.2 L109.2 337.6 L106.8 340.8 L113.2 342.0 L105.2 343.2 L102.0 344.0 L98.8 346.4 L97.2 349.6 L98.8 352.0 L101.2 355.2 L102.0 360.0 L94.8 360.0 L94.0 354.4 L92.4 350.4 L93.2 346.4 L92.4 342.4 L92.4 337.6 L90.0 334.4 L88.4 329.6 L87.2 326.4 L86.0 323.2 L84.4 320.0 L82.0 315.2 L81.2 310.4 L81.6 307.2 L82.8 304.0 L82.0 300.0 L81.2 297.2 L84.4 297.6 L85.6 300.8 L86.8 303.2 L86.4 296.8 L89.2 296.0 L93.2 292.0 L96.4 289.6 Z" fill="#595959"/>
<path d="M92.4 350.0 L96.4 352.4 L99.6 353.2 L100.4 356.4 L103.6 359.6 L107.6 360.4 L109.2 363.6 L111.6 366.8 L113.6 363.2 L114.4 367.2 L112.4 370.0 L114.8 372.4 L118.0 374.0 L119.6 378.0 L118.8 382.0 L114.8 382.0 L112.4 378.8 L110.8 374.8 L107.6 372.4 L104.4 369.2 L101.2 366.8 L98.8 363.6 L96.4 359.6 L94.8 355.6 Z" fill="#595959"/>
<path d="M91.6 371.6 L94.0 372.4 L98.0 378.0 L98.8 382.0 L96.4 381.2 L93.2 376.4 Z" fill="#595959"/>
<path d="M99.6 384.4 L102.8 385.2 L105.2 390.0 L104.4 391.6 L102.0 390.0 Z" fill="#595959"/>
<path d="M119.6 395.6 L122.0 396.4 L124.4 401.2 L127.6 405.2 L131.6 406.0 L133.2 409.2 L131.6 413.2 L130.0 416.4 L129.2 420.4 L130.8 423.6 L129.2 426.8 L126.0 425.2 L125.2 422.0 L127.6 418.8 L128.4 414.0 L126.0 410.8 L125.2 407.6 L122.8 406.0 L122.0 401.2 Z" fill="#595959"/>
<path d="M48.0 199.4 L60.0 205.0 L74.0 211.6 L92.0 219.6 L110.0 227.0 L126.0 233.0 L144.0 239.0 L160.0 243.6 L180.0 249.6 L199.0 254.4 L220.0 259.0 L240.0 264.4 M48.0 199.4 L48.5 201.9 L50.2 204.0 L49.6 206.8 L51.2 208.9 L51.3 211.3 L52.6 213.2 L52.3 215.7 L53.8 217.5 L56.9 217.2 L60.0 215.8 L62.9 215.6 L65.5 214.2 L66.5 212.0 L68.8 211.8 L71.2 213.1 L73.6 212.3 L74.3 215.0 M74.4 215.0 L74.4 217.7 L75.8 220.0 L76.1 222.4 L78.1 224.0 L79.3 226.6 L81.2 228.9 L81.9 231.2 L83.7 232.9 L83.9 235.8 L85.7 238.0 L86.0 240.9 L88.1 242.9 L90.0 245.2 L92.6 246.8 L89.5 249.9 L88.1 254.0 L88.8 256.9 L91.2 258.9 L91.7 261.8 L93.8 263.9 L93.1 266.6 L94.5 269.0 L95.5 272.0 L98.2 273.9 L98.7 277.1 L100.2 279.9 L99.1 282.4 L99.2 285.0 L95.9 287.9 L95.5 290.2 L93.9 292.0 M74.4 215.0 L74.6 217.5 L76.5 219.4 L76.3 222.0 L77.9 224.5 L78.0 227.7 L80.2 229.9 L80.2 232.6 L81.4 234.9 L80.7 237.7 L82.1 240.0 L82.4 242.5 L84.0 244.8 L83.5 247.6 L84.6 250.0 L84.1 252.6 L85.5 254.9 L84.4 257.6 L85.7 260.0 L85.8 262.8 L87.5 265.3 L87.7 268.1 L89.7 269.8 L90.5 272.3 L92.6 273.9 L93.3 276.2 L95.7 277.2 L96.8 279.2 L100.1 279.8 M94.4 266.0 L96.2 263.7 L98.9 262.5 L102.0 263.2 L104.3 263.4 L105.9 265.2 L108.8 266.0 L110.9 268.2 L113.3 268.4 L114.6 270.7 L117.0 270.9 L119.3 272.8 L122.1 273.8 L122.3 276.8 L124.1 279.0 L125.5 281.2 L128.1 282.3 L129.7 284.3 L132.1 285.5 L133.9 286.8 L136.1 287.2 L137.9 288.5 L140.4 288.0 L142.6 289.2 L145.0 288.8 L147.5 288.2 L149.0 285.9 L150.8 284.2 L151.9 282.0 L153.4 285.7 L155.6 286.6 L156.9 288.5 L160.1 288.5 L163.0 289.6 M94.4 269.0 L96.5 271.2 L99.1 272.9 L101.3 275.3 L104.1 276.9 L105.0 279.0 L107.3 280.1 L107.9 282.5 L110.9 280.8 L109.7 283.3 L110.2 286.0 L111.1 288.8 L113.1 291.0 L114.4 294.0 L117.1 296.0 L116.1 298.9 L116.1 302.0 L113.9 304.1 L113.1 307.1 L111.0 309.2 L110.1 312.1 L108.3 314.8 L108.3 318.1 L109.1 320.3 L111.2 321.9 L111.3 325.2 L113.2 327.9 L112.6 331.1 L114.1 334.0 L114.6 336.7 L116.1 338.9 L115.7 341.4 L116.7 343.6 L116.3 346.0 L118.5 348.7 L118.8 352.1 L121.2 354.1 L121.8 357.1 L123.9 359.3 L124.9 362.1 L126.9 364.3 L128.0 367.0 L129.7 368.8 L130.9 371.1 L134.1 373.9 M160.0 243.6 L158.6 245.7 L157.7 248.1 L156.3 252.0 L158.0 254.3 L158.8 257.1 L159.6 259.5 L159.5 262.0 L160.9 264.4 L161.4 267.1 L161.8 269.6 L160.9 272.0 L162.2 274.9 L162.2 278.1 L163.0 280.3 L161.9 282.6 L163.2 284.8 L162.5 287.1 L163.2 289.4 L163.1 291.6 L164.5 293.7 L163.9 296.0 L165.7 298.1 L165.5 300.9 L167.1 303.0 L167.7 305.4 L169.0 307.6 L169.5 310.0 L171.6 312.3 L172.9 315.1 L173.7 317.3 L173.0 319.8 L174.2 322.0 L174.9 324.0 L176.6 325.6 L177.4 327.7 L180.1 329.9 M199.0 254.4 L179.4 330.0 M179.4 330.0 L180.7 332.1 L183.1 332.9 L185.9 334.2 L187.8 336.2 L187.9 339.0 L192.1 339.8 L195.0 339.1 L193.7 342.0 L190.0 342.9 L191.7 345.2 L191.9 348.0 L194.1 349.2 L195.0 351.6 L197.1 352.9 L198.7 354.9 L201.1 355.9 L201.5 359.2 L203.2 361.9 L203.2 364.8 L205.1 367.0 L205.2 370.3 L207.2 372.9 L207.2 375.4 L209.7 376.7 L209.9 379.1 L211.3 380.8 L211.2 383.4 L213.2 384.9 L213.4 387.7 L215.1 390.0 M179.4 330.0 L177.9 332.1 L178.1 334.8 L176.9 337.0 L177.8 339.3 L176.9 341.8 L178.1 344.0 L178.8 346.5 L181.1 347.9 L181.9 350.3 L184.2 351.7 L184.9 354.1 L186.5 355.8 L186.3 358.3 L188.2 359.9 L188.9 362.3 L190.8 363.9 L191.9 366.1 L193.7 368.4 L194.8 371.1 L197.2 373.1 L197.9 376.1 L199.9 377.6 L200.5 380.1 L202.2 381.9 L202.8 384.7 L204.7 387.1 L204.8 390.1 M63.0 295.6 L63.0 295.7 M63.0 295.7 L61.2 297.6 L60.2 300.1 L59.6 303.0 L59.7 306.0 L59.8 308.8 L61.7 311.1 L61.5 314.0 L63.0 316.5 L63.0 319.4 L64.1 322.0 L64.4 324.9 L66.5 327.1 L66.8 330.1 L68.7 331.7 L69.5 334.1 L70.3 330.0 L70.3 327.3 L69.3 324.7 L69.1 322.0 L68.2 319.4 L68.9 316.6 L67.8 314.0 L68.1 310.9 L66.8 308.0 L70.1 306.2 L73.0 303.0 L74.6 301.8 L72.0 301.1 L70.1 299.5 L67.4 299.0 L65.0 297.9 L63.0 295.7 M63.0 295.7 L62.9 295.6 M61.6 305.0 L68.0 305.6 M61.0 309.0 L67.0 310.0 M240.0 349.0 L237.5 348.3 L235.0 349.3 L232.6 350.6 L231.1 353.1 L230.3 355.3 L230.7 357.7 L229.9 360.0 L231.2 362.9 L230.9 366.0 L230.7 368.4 L228.6 369.8 L228.1 372.1 L226.5 373.8 L226.5 376.3 L225.0 378.0 L224.7 380.3 L222.5 381.8 L222.1 384.0 L220.5 386.8 L220.1 390.0 M134.0 372.4 L136.4 372.4 L138.6 371.2 L141.0 371.9 L143.3 371.1 L145.7 371.6 L148.0 370.8 L150.9 374.1 L154.1 376.9 L156.3 376.6 L157.6 374.3 L160.0 374.1 L160.2 371.5 L162.2 369.6 L162.2 366.9 L164.8 367.5 L167.0 366.1 L168.3 368.8 L170.1 371.0 L169.7 373.4 L171.3 375.6 L170.8 378.0 L170.8 380.8 L168.9 382.9 L171.0 385.0 L171.0 388.0 L173.2 389.9 M240.0 264.4 L270.0 269.6 L283.0 271.6 L320.0 276.4 L349.6 279.0 L380.0 280.0 L410.4 280.6 M282.6 271.6 L277.0 304.0 L270.0 350.0 L264.2 390.0 M349.6 279.0 L348.0 304.0 L346.0 356.0 L345.4 390.0 M270.0 269.6 L269.4 272.4 L270.3 275.2 L269.5 278.0 L269.0 281.1 L267.9 284.0 L269.7 285.6 L269.9 288.0 L273.6 289.5 L274.2 292.1 L272.4 294.2 L269.9 295.9 L267.8 299.1 L270.2 299.5 L272.8 298.5 L275.4 300.2 L278.0 299.4 M281.4 278.0 L273.0 286.0 M281.4 278.0 L285.0 277.1 L288.1 278.3 L289.9 281.1 L292.7 281.1 L295.2 282.4 L298.0 281.8 L300.5 283.4 L303.5 282.6 L306.0 284.1 L308.8 284.2 L311.2 285.7 L314.0 285.9 L316.9 287.3 L320.0 287.9 L322.7 288.2 L325.3 287.7 L328.0 288.2 L330.5 289.6 L332.2 292.2 L333.4 294.4 L332.8 297.0 L335.4 298.0 L337.0 300.1 L339.5 299.2 L342.0 299.8 L341.5 302.0 L339.9 303.9 L337.1 307.1 L339.7 307.4 L342.0 305.9 L344.1 304.1 L348.1 304.8 L348.8 309.1 L352.1 309.8 L354.9 311.2 L359.0 310.8 L359.9 313.9 L362.2 315.9 L365.1 314.1 L368.0 315.9 L369.8 319.7 L372.7 319.2 L375.3 320.5 L378.0 319.4 L380.6 320.1 L383.0 318.8 L386.0 319.7 L389.0 319.5 L390.8 321.2 L393.0 321.9 L393.8 326.1 L397.1 325.9 L400.0 327.2 L402.4 326.8 L404.8 327.9 L407.2 327.0 L409.6 328.1 L412.0 327.5 L413.8 331.1 L418.0 331.9 L418.3 334.4 L420.1 335.9 L422.2 337.1 L424.8 335.9 L427.0 337.1 L429.7 337.5 L431.9 339.2 L433.1 342.0 L430.3 343.2 L428.1 345.2 L429.9 348.0 L432.5 348.3 L435.0 349.1 L437.1 350.9 L440.1 350.2 M278.0 300.0 L278.9 303.0 L282.1 303.1 L285.0 304.1 L286.5 308.0 L284.8 309.7 L284.5 312.0 L283.5 314.4 L284.2 317.0 L285.3 319.1 L287.2 320.9 L287.8 325.0 L290.3 325.8 L292.3 327.1 L294.1 329.3 L294.8 332.1 L297.8 333.0 L299.9 335.2 L302.5 336.5 L303.9 339.1 L306.6 338.8 L309.0 340.1 L311.2 341.8 L312.9 344.1 L315.3 345.7 L316.9 348.1 L319.7 347.7 L322.0 349.2 L325.1 349.0 L328.0 350.3 L329.2 354.0 L331.7 354.3 L334.0 352.8 L336.7 354.8 L340.1 354.8 L343.0 357.1 L345.9 355.7 L348.4 356.7 L350.8 355.2 L353.2 356.6 L355.6 355.0 L358.0 355.9 L360.5 355.0 L363.0 355.6 L365.4 354.3 L368.0 355.2 L371.1 357.9 L372.2 360.2 L374.2 361.9 L375.0 364.4 L377.1 365.9 L379.9 367.2 M240.0 352.0 L242.7 352.6 L245.3 351.6 L248.0 352.1 L251.1 354.9 L252.5 357.9 L255.1 359.9 L259.0 361.1 L259.3 358.7 L261.2 357.1 L263.2 358.2 L264.8 360.2 L267.3 360.4 L269.0 362.1 L271.4 363.6 L272.9 366.1 L275.4 367.0 L276.9 369.1 L278.8 370.8 L279.9 373.1 L281.0 370.6 L283.1 369.0 L285.3 369.3 L286.9 371.2 L289.7 371.5 L292.0 373.1 L294.8 374.0 L297.0 376.1 L299.9 376.8 L301.9 379.1 L305.1 379.7 L307.6 380.0 L310.0 378.9 L311.2 381.2 L313.2 382.9 L315.9 384.1 L319.0 383.9 L321.3 385.4 L324.1 384.7 L325.5 387.9 L328.1 389.9 M410.4 280.6 L409.4 283.2 L409.7 286.0 L409.1 289.0 L409.1 292.0 L408.7 294.7 L410.1 297.0 L414.0 298.2 L414.8 301.0 L414.9 304.0 L415.1 300.9 L416.1 298.0 L420.0 296.3 L422.4 297.4 L425.1 297.8 L425.5 301.2 L427.2 303.9 L427.3 306.3 L429.6 307.7 L429.9 310.1 L431.8 312.7 L431.8 316.1 L432.7 318.6 L431.5 321.0 L429.1 323.1 L431.5 322.7 L434.0 321.8 L437.2 321.6 L439.9 319.8 M440.0 350.0 L432.0 358.0 L420.0 370.0 L408.4 383.0 L408.4 390.0 M380.0 367.0 L381.2 364.8 L381.5 363.2 M381.5 363.2 L381.6 362.2 L383.2 360.1 L382.4 362.2 L381.5 363.2 M381.5 363.2 L380.8 363.9 L378.0 366.1 L379.9 369.1 L382.9 367.8 L383.9 370.0 L385.4 372.9 L385.9 376.0 L387.7 378.8 L387.8 382.1 L389.4 384.5 L388.9 387.4 L390.1 390.0 M374.0 366.0 L372.3 367.8 L371.2 370.2 L369.7 372.2 L370.2 374.8 L368.8 377.0 L372.2 379.8 L375.0 379.7 M375.0 379.7 L375.0 379.7 L378.0 378.8 L375.3 379.5 L375.0 379.7 M375.0 379.7 L373.0 381.1 L373.9 383.5 L376.2 384.9 L377.5 387.2 L380.2 387.8 L380.9 390.1 M640.0 265.0 L637.6 263.2 L634.6 263.3 L632.0 261.9 L629.0 261.3 L627.0 258.9 L624.3 257.1 L623.1 253.9 L622.0 251.8 L622.0 249.2 L620.8 247.1 L620.6 244.6 L619.4 242.4 L619.1 240.0 L619.5 237.0 L616.0 235.9 L613.2 237.5 L610.0 237.9 L607.5 238.3 L605.0 237.5 L602.5 238.3 L600.0 237.4 L597.9 235.1 L595.7 232.8 L592.9 231.2 L591.0 228.7 L587.9 228.2 L585.5 226.7 L582.4 227.2 L580.1 225.4 L578.7 227.6 L576.3 228.0 L575.0 230.0 L572.9 230.9 L570.5 232.2 L567.6 231.5 L565.0 232.6 L562.9 230.4 L559.9 230.2 L557.8 229.9 L555.6 230.6 L553.4 230.1 L551.2 231.2 L549.0 230.5 L547.6 233.3 L544.8 234.8 L546.3 237.1 L545.9 239.8 L547.2 241.9 L548.5 244.1 L551.1 244.8 L550.1 247.2 L550.8 249.7 L548.7 251.6 L549.1 254.0 L551.3 255.6 L554.1 255.8 L554.2 258.8 L556.1 260.9 L556.8 263.6 L558.1 266.0 L555.8 268.1 L555.2 271.1 L554.8 273.6 L556.1 276.0 L553.6 276.3 L552.1 278.2 L550.6 279.8 L550.1 282.1 L550.9 284.4 L553.1 285.9 M553.0 286.0 L560.0 289.0 L566.0 293.0 L571.0 300.0 L573.6 306.0 L574.4 310.0 L584.0 303.0 L596.0 297.0 L608.0 294.4 L620.0 295.0 L630.0 299.0 L640.0 305.0 M574.4 310.0 L574.4 318.0 L571.0 326.0 L565.0 333.0 L558.0 339.0 L551.0 343.0 L554.0 348.0 L558.0 352.0 L560.0 360.0 L563.0 366.0 L566.0 372.0 L569.0 376.0 L567.0 382.0 L565.0 390.0 M462.4 322.4 L462.5 322.5 M462.5 322.5 L464.0 324.3 L466.8 324.6 L467.9 327.2 L470.6 327.6 L471.9 329.8 L474.6 330.3 L476.0 332.4 L478.6 332.6 L480.6 334.6 L483.4 333.9 L485.5 335.6 L488.0 335.9 L490.3 337.3 L493.1 337.5 L495.2 339.5 L498.1 339.4 L500.4 340.1 L502.8 339.2 L505.2 340.2 L507.6 339.0 L510.0 339.8 L512.3 339.1 L514.6 340.2 L516.9 339.4 L519.1 340.4 L521.4 338.7 L523.7 340.2 L526.0 339.4 L525.9 342.5 L527.6 345.1 L527.4 348.0 L527.2 350.8 L525.1 353.1 L525.2 356.1 L523.9 358.0 L524.5 360.4 L523.0 362.3 L523.3 364.7 L521.6 366.6 L522.0 369.0 L520.8 371.0 L518.6 371.7 L516.2 370.8 L513.8 371.5 L511.4 370.9 L509.0 371.5 L506.9 369.8 L504.2 369.3 L502.6 366.8 L499.9 366.2 L498.2 364.3 L495.8 363.6 L494.5 361.3 L491.6 361.2 L490.2 359.0 L487.9 358.2 L486.1 356.5 L483.7 355.7 L482.3 353.5 L479.9 352.8 L478.3 350.8 L475.9 350.2 L474.5 348.0 L471.7 348.3 L470.5 345.9 L468.0 345.6 L466.5 343.6 L464.2 343.0 L462.4 341.5 L462.1 339.2 L463.1 336.8 L462.1 334.4 L462.9 332.0 L462.2 329.6 L463.3 327.2 L461.9 324.8 L462.5 322.5 M462.5 322.5 L462.6 322.4 M440.0 319.0 L448.0 317.0 L456.0 321.0 L462.4 322.4 M462.4 322.4 L440.0 350.0 M440.0 349.0 L442.9 349.9 L446.0 349.9 L447.8 351.7 L450.1 352.9 L452.9 353.9 L456.0 353.8 L458.9 355.3 L462.0 354.9 L463.8 357.7 L466.2 359.8 L467.6 361.8 L470.2 361.6 L471.9 363.2 L474.1 363.7 L475.7 365.6 L478.1 365.8 L480.3 367.8 L483.1 368.9 L484.7 371.7 L487.1 373.9 L487.2 377.3 L489.2 379.9 L489.4 383.2 L491.1 386.0 L491.8 390.0 M526.0 354.0 L526.9 356.4 L529.0 358.0 L529.4 361.2 L531.1 364.0 L530.6 366.3 L531.4 368.7 L530.9 371.0 L533.2 372.1 L533.9 374.8 L536.2 375.8 L537.0 378.8 L539.2 380.9 L541.4 382.7 L544.1 383.9 L545.4 386.6 L548.1 387.9 L551.0 390.1 M640.0 356.0 L637.7 356.4 L636.4 358.8 L633.8 358.6 L632.1 360.2 L629.3 360.8 L627.6 363.2 L624.9 363.8 L624.2 368.1 L621.2 364.8 L618.6 365.9 L615.9 365.7 L614.2 367.7 L611.9 368.9 L609.2 370.5 L606.0 370.9 L603.0 371.3 L600.0 370.9 L597.1 372.4 L593.9 372.8 L592.5 375.5 L589.9 376.9 L589.2 379.9 L586.8 381.9 L584.9 383.6 L582.0 383.2 L580.1 385.2 L580.3 387.5 L581.2 390.0 M609.0 251.0 L618.0 250.0 M631.0 278.0 L640.0 270.0 M498.0 339.6 L497.6 345.0 M640.0 265.0 L640.8 267.1 L642.2 268.9 L644.1 267.1 L645.8 263.9 L648.2 262.9 L648.7 260.0 L651.2 259.2 L653.9 256.8 L656.8 260.2 L656.2 257.5 L657.4 255.0 L656.6 252.5 L657.1 250.0 L656.1 247.4 L656.4 244.6 L655.4 242.0 L657.7 243.7 L660.1 244.9 L660.3 242.5 L658.5 240.3 L659.0 237.8 L658.2 235.4 L658.1 233.0 L661.0 231.5 M704.0 276.0 L700.0 275.0 L690.0 275.0 L680.0 277.0 L670.0 282.0 L660.0 289.0 L650.0 297.0 L640.0 305.0 M778.0 312.0 L777.0 318.0 L772.0 324.0 L768.0 328.0 L763.0 333.0 L758.0 337.0 L755.0 342.0 L752.0 348.0 L748.0 353.0 L742.0 357.0 L734.0 360.0 L724.0 363.0 L712.0 366.0 L700.0 370.0 L692.0 374.0 L688.0 379.0 L686.0 385.0 L685.6 390.0 M680.0 277.0 L680.9 279.9 L683.1 281.9 L684.6 284.4 L687.6 285.4 L688.9 288.1 L690.9 289.8 L692.1 292.2 L694.1 294.0 L693.4 296.5 L694.3 299.1 L692.9 301.5 L693.2 304.0 L690.1 304.8 L688.1 307.2 L685.4 306.5 L682.6 306.8 L680.0 305.9 L677.5 307.4 L674.6 306.9 L672.0 308.1 L669.5 306.8 L666.5 307.5 L664.0 305.9 L662.7 309.0 L659.9 310.9 L662.7 312.1 L664.9 314.1 L663.5 315.8 L661.1 316.8 L660.1 319.1 L660.1 321.4 L661.0 323.6 L660.8 326.0 L663.8 327.0 L665.4 329.7 L668.1 330.8 L669.8 333.7 L672.2 335.9 L674.4 337.1 L677.0 336.9 L677.2 339.7 L679.7 341.4 L679.8 344.1 L681.5 345.8 L681.7 348.2 L683.2 349.9 L683.4 352.3 L685.4 353.8 L685.8 356.1 L688.9 355.0 L692.0 355.1 L693.8 352.4 L696.2 350.1 L700.0 349.8 L701.8 348.4 L701.9 346.0 L701.7 343.6 L699.9 342.0 L700.4 339.6 L698.7 337.4 L699.2 335.0 L701.1 332.5 L704.1 331.1 L703.8 333.5 L701.9 335.5 L702.1 338.0 L702.2 341.3 L704.2 343.9 L706.5 344.3 L709.0 343.8 L711.8 343.1 L713.9 340.8 L716.3 340.5 L717.9 338.8 L720.0 338.1 L721.8 336.4 L724.3 335.7 L725.9 333.9 L728.8 334.0 L731.3 332.4 L734.0 332.1 L736.9 330.7 L740.0 330.1 L741.6 328.2 L744.1 328.2 L745.7 326.4 L748.3 326.6 L749.6 324.2 L752.1 324.1 L754.6 322.7 L757.5 322.6 L759.9 320.8 L762.8 320.7 L765.2 319.2 L768.0 319.1 M640.0 356.0 L641.7 354.3 L641.7 351.8 L643.2 350.1 L645.3 348.4 L648.1 348.2 L649.7 346.5 L652.3 346.7 L653.9 344.8 L657.1 344.8 L660.0 343.9 L662.5 342.9 L663.5 340.0 L666.1 339.1 L667.9 337.8 L670.1 337.2 L672.0 335.9 M751.0 287.0 L748.6 288.1 L747.8 290.8 L745.3 291.8 L744.1 294.1 L741.7 295.3 L740.3 297.7 L738.0 298.9 L736.8 301.0 L734.3 301.9 L734.2 304.8 L731.8 305.9 L731.7 308.3 L729.5 309.7 L729.2 312.1 L727.9 314.0 L727.8 316.4 L725.7 317.8 L725.3 320.1 L723.9 321.9 L725.4 323.8 L725.8 326.1 L722.8 325.5 L720.0 323.9 L717.3 323.6 L714.8 322.2 L712.0 322.2 L710.2 322.1 M710.2 322.1 L709.3 322.1 L709.2 322.1 M709.2 322.1 L706.7 323.3 L704.0 322.8 L706.9 321.9 L709.2 322.1 M709.2 322.1 L710.0 322.2 L710.2 322.1 M710.2 322.1 L712.9 320.8 L716.0 321.2 L718.9 319.8 L722.0 320.2 L720.2 318.4 L720.2 315.9 L716.0 316.2 L718.4 315.7 L719.6 313.3 L722.0 313.1 L719.8 310.1 L717.0 309.5 L714.0 310.1 L712.1 307.9 L714.6 307.0 L717.4 308.2 L720.0 306.9 L722.8 306.4 L725.2 304.6 L728.1 304.2 L728.3 301.2 L730.2 299.1 L731.8 297.5 L734.2 297.4 L735.9 295.8 L738.4 294.8 L739.8 292.4 L742.1 291.2 L743.8 289.6 L746.3 289.6 L747.9 287.8 M748.0 291.0 L747.7 293.4 L749.2 295.6 L748.7 298.0 L752.1 299.8 L750.2 301.6 L750.6 304.3 L748.9 306.0 L751.3 307.1 L752.9 309.2 L755.4 307.9 L758.0 308.1 L760.0 309.6 L760.8 312.1 L763.7 312.5 L765.9 314.2 L767.3 316.4 L767.9 319.0 L769.1 316.2 L771.1 314.1 L770.1 311.4 L770.8 308.6 L769.8 306.0 M710.0 375.0 L712.7 374.3 L715.2 372.7 L718.1 372.6 L720.4 372.1 L722.8 373.2 L725.2 372.2 L727.6 372.8 L730.0 372.3 L732.3 373.9 L735.2 372.9 L737.4 374.9 L740.0 374.8 L737.8 378.3 L735.6 379.4 L732.9 378.3 L730.6 380.0 L728.0 379.4 L725.5 379.4 L723.1 378.2 L720.4 378.8 L718.0 377.9 L715.0 377.8 L712.8 375.6 L710.0 375.1 M698.0 390.0 L704.0 387.0 L712.0 387.0 L718.0 390.0 M784.0 319.0 L781.0 319.9 L780.2 322.5 L776.4 322.0 L776.1 325.1 L773.6 326.4 L776.4 329.7 L773.4 330.9 L773.2 333.1 L770.6 335.0 L771.8 338.1 L770.3 340.8 L772.9 342.9 L771.9 345.3 L772.9 347.7 L771.7 350.0 L773.3 352.3 L771.5 354.7 L773.1 357.0 L771.2 359.2 L772.5 361.8 L771.2 364.0 L771.9 366.0 L769.6 367.9 L771.6 370.0 L767.9 370.8 L767.9 374.4 L767.6 376.1 L769.8 374.6 L772.1 374.2 L773.5 371.8 L776.2 371.2 L776.1 373.6 L773.8 374.9 L774.3 377.6 L770.5 378.2 L771.1 381.1 L769.0 384.3 L771.5 386.0 L771.9 388.6 L774.9 387.1 L777.9 387.4 L777.9 384.0 L780.4 383.4 L782.2 381.3 L785.2 381.4 L787.2 379.1 L790.1 378.1 L792.9 376.6 L794.9 379.3 L796.0 376.0 L799.3 375.3 M784.0 319.0 L783.1 321.0 L784.5 323.0 L781.3 323.5 L784.1 325.9 L784.2 328.8 L787.3 328.7 L783.4 329.6 L783.8 332.7 L782.2 334.9 L784.1 337.5 L782.0 340.0 L784.0 342.0 L781.7 344.6 L785.0 346.2 M785.0 346.2 L785.3 346.3 L784.3 347.4 M784.3 347.4 L782.8 348.9 L784.3 351.0 L785.5 349.2 L784.3 347.4 M784.3 347.4 L783.9 346.9 L785.0 346.2 M785.0 346.2 L786.6 345.3 L784.0 342.8 L785.8 341.0 L789.0 340.6 L790.5 338.2 L792.7 338.3 L792.8 341.2 L792.8 343.4 L790.5 345.1 L791.5 347.6 M791.5 347.6 L791.6 347.9 L790.4 350.0 L791.5 347.6 M791.5 347.6 L791.6 347.4 L794.3 346.3 L796.9 348.1 L798.9 347.6 L798.8 344.9 L800.7 347.3 M825.0 355.0 L827.3 355.6 L828.9 353.4 L828.9 356.1 L831.5 357.7 L829.7 360.0 L831.7 361.7 L831.7 364.2 L831.8 361.0 L834.5 359.2 L836.2 361.9 L835.6 364.4 L838.1 366.5 L836.5 369.1 L839.1 370.8 L836.2 373.1 L838.0 375.0 L834.0 373.9 L832.3 377.2 L832.8 374.5 L829.4 373.4 L830.5 370.8 L828.4 374.3 L825.7 374.7 M825.7 374.7 L825.7 374.7 L825.1 377.1 L825.7 374.7 M825.7 374.7 L825.8 374.5 L823.1 372.5 L824.3 370.0 M808.0 375.0 L806.0 379.0 L809.0 380.0 M762.0 402.0 L765.0 402.0 L767.0 410.0 M760.0 315.0 L766.0 316.0 L770.0 325.0 L765.0 329.0 L760.0 333.0 M79.5 540.0 L78.8 543.0 L78.7 546.0 L79.0 548.9 L81.2 550.9 L81.2 553.8 L83.2 555.9 L82.9 559.1 L84.2 562.0 L85.1 564.6 L86.6 567.0 L86.1 570.1 L87.2 573.0 L86.1 575.4 L86.6 578.0 L87.3 580.3 L89.2 581.9 L91.4 584.1 L88.6 587.1 L87.9 589.6 L89.1 592.0 L89.6 595.3 L91.7 597.9 L92.6 601.1 L94.2 603.9 L94.6 606.2 L96.6 607.7 L96.8 610.1 L98.0 612.4 L97.9 615.0 L97.8 617.7 L96.4 620.0 L98.2 622.9 L100.8 624.7 L104.1 624.8 L105.7 626.9 L108.1 627.9 L110.9 630.2 L112.7 631.8 L113.9 634.1 L117.1 635.8 M106.5 540.0 L106.9 543.1 L108.1 546.0 L107.7 548.4 L109.5 550.4 L109.1 552.8 L110.2 555.0 L109.6 557.8 L111.1 560.3 L110.9 563.0 L112.5 565.1 L112.5 567.9 L114.2 569.9 L114.3 572.8 L115.9 575.2 L115.9 578.0 L117.7 579.8 L118.2 582.3 L120.1 584.0 L120.4 586.3 L122.1 588.0 L123.0 590.3 L125.2 591.9 L125.0 594.3 L125.7 596.6 L125.4 599.0 L126.4 601.4 L125.8 604.0 L126.1 607.2 L124.4 610.0 L128.0 608.9 L127.9 611.6 L129.1 614.0 L127.6 616.3 L127.2 619.1 L124.1 620.5 L122.0 623.1 L120.9 626.0 L123.7 627.8 L126.0 630.0 L128.4 630.2 L129.7 632.6 L132.1 632.8 L134.5 634.3 L137.5 633.8 L140.0 635.1 L142.6 635.8 L144.9 637.2 L146.1 640.0 M123.0 552.0 L122.1 554.9 L122.2 558.0 L122.5 560.5 L124.4 562.4 L124.3 565.1 L124.9 567.3 L124.7 569.7 L125.2 572.0 L124.7 575.1 L126.2 578.0 L130.0 578.2 L129.2 582.1 L129.8 584.1 L131.6 585.7 L131.8 588.1 L133.7 590.8 L133.8 594.1 L133.8 596.6 L132.9 599.0 L134.9 595.9 L136.2 598.3 L138.1 599.9 L136.2 596.9 L138.9 593.9 L140.8 591.7 L141.8 588.9 L144.1 587.1 L143.4 584.0 L143.0 581.8 L141.3 580.1 L142.2 577.0 L146.0 576.3 L147.7 578.6 L150.0 580.0 L151.3 582.6 L153.1 584.9 L153.8 587.9 L156.2 589.9 L154.7 592.3 L155.2 595.0 L156.5 597.1 L159.1 597.9 L161.3 597.4 L162.7 595.2 L165.1 594.7 L169.0 593.9 L169.2 597.0 L170.2 600.0 L166.9 602.9 L168.8 604.6 L168.3 607.4 L170.2 608.9 M134.0 594.0 L133.4 596.6 L133.9 599.3 L133.4 602.0 L134.1 604.7 L132.9 607.3 L133.1 610.0 L131.3 611.9 L128.9 609.1 M124.0 561.0 L170.0 630.0 M96.5 629.0 L100.0 631.0 L104.0 631.5 L107.5 633.0 M89.0 563.5 L94.0 564.0 L100.0 567.0 L90.0 565.0 L89.0 569.0 L91.0 573.0 M130.5 659.0 L132.3 662.6 L135.8 662.4 L139.0 663.1 L141.6 662.9 L144.0 664.1 L147.1 663.6 L150.0 665.2 L152.5 664.4 L155.0 666.0 L157.5 665.0 L160.0 665.6 L163.2 664.8 L166.5 665.2 M114.0 634.0 L116.9 636.1 L120.0 636.9 L120.4 640.0 L124.1 641.9 L125.0 644.4 L127.2 645.9 L128.2 648.2 L130.2 649.9 L131.3 654.1 L131.6 656.6 L130.4 659.0 M166.5 665.0 L167.2 662.5 L166.7 660.0 L165.2 656.9 L165.3 654.7 L167.1 653.1 L167.6 649.9 L169.1 647.0 L171.3 644.8 L174.1 643.2 L172.4 640.2 L172.3 636.9 L171.1 634.7 L171.5 632.1 L169.7 630.1 L171.5 627.5 L171.3 624.4 L173.2 622.1 L172.5 619.7 L172.7 617.3 L171.9 615.0 L174.6 615.4 L177.0 614.3 L179.9 617.1 M125.5 603.0 L124.7 605.3 L125.1 607.7 L124.2 610.0 L127.9 608.3 L127.9 611.8 L128.6 615.0 L126.3 617.2 L125.2 620.1 L122.7 621.2 L121.6 623.6 L121.9 626.0 L124.7 627.8 L127.0 630.1 L129.3 630.4 L130.8 632.3 L133.0 632.9 L135.1 634.3 L137.8 634.0 L139.9 635.2 L142.5 635.9 L144.4 637.7 L144.2 640.5 L141.4 641.8 L142.2 644.5 L142.4 647.0 L144.6 648.9 L142.3 651.9 L142.2 656.0 L142.5 658.7 L144.2 660.9 L145.9 664.1 L150.0 664.9 M134.0 600.0 L133.4 602.5 L134.6 605.0 L132.8 607.5 L133.6 610.0 L131.9 612.5 L128.4 610.1 M167.0 603.0 L167.4 606.2 L169.1 609.0 L171.1 607.7 L172.9 605.9 L175.7 604.8 L177.9 602.8 L180.1 601.7 L181.9 599.9 M181.0 608.0 L181.5 610.7 L183.2 612.9 L184.0 615.8 L186.2 617.9 L190.0 619.2 M189.0 613.0 L186.7 610.7 L183.9 609.2 L186.3 608.7 L187.8 606.6 L190.1 606.2 M182.0 621.0 L182.2 623.8 L184.2 625.9 L182.0 627.2 L180.6 629.1 L178.9 631.2 L179.1 634.0 L179.4 636.7 L181.1 639.0 L182.6 635.0 L185.9 633.8 L188.6 632.6 L189.9 629.9 M200.0 419.5 L215.0 421.5 L225.0 424.0 L235.0 425.5 L248.0 428.0 L259.0 429.5 L275.0 431.5 L300.0 434.5 M202.0 380.0 L202.6 382.2 L204.5 383.8 L204.8 386.1 L206.2 387.9 L207.0 390.5 L208.9 392.5 L209.9 395.1 L212.7 397.0 L213.8 400.1 L214.8 402.4 L213.6 405.1 L215.5 407.4 L214.8 410.0 L215.8 412.9 L215.8 416.0 L218.0 417.6 L218.9 420.0 L221.5 420.8 L222.9 423.2 L226.1 424.8 M212.0 380.0 L212.2 383.0 L213.2 386.0 L216.0 386.7 L219.0 386.8 L218.8 389.6 L220.1 392.0 L218.5 394.8 L218.7 398.1 L218.1 400.4 L219.2 402.6 L218.8 405.0 L220.2 407.6 L219.3 410.4 L220.2 413.0 L220.3 415.6 L222.4 417.5 L222.9 420.0 L224.7 422.4 L225.9 425.1 L228.5 424.7 L230.5 426.6 L233.0 426.3 L235.1 426.3 M217.0 389.5 L219.5 390.1 L220.7 393.9 L219.4 398.0 L217.4 397.2 L216.6 393.0 L216.8 389.5 M220.5 406.5 L220.6 406.5 M220.6 406.5 L222.4 407.2 L223.0 411.0 L221.1 411.8 L220.2 409.5 L220.6 406.5 M220.6 406.5 L220.6 406.5 M235.0 426.0 L234.9 429.0 L233.3 430.5 L230.9 430.8 L233.1 433.9 L234.4 438.0 L236.2 439.9 L234.5 441.8 L234.2 444.1 L234.3 448.0 L237.0 447.9 L237.3 451.0 L238.2 454.0 L239.9 455.6 M240.0 455.5 L240.2 452.0 L242.5 451.5 L245.0 452.6 L247.5 450.8 L250.0 451.6 L252.3 450.0 L255.0 450.1 L254.2 447.0 L255.2 444.0 L256.8 445.8 L257.9 448.0 L258.5 445.3 L260.1 443.1 L262.8 441.4 L266.0 441.6 L268.1 442.7 L268.9 445.1 L273.0 445.9 L271.8 448.9 L269.0 450.1 L271.3 451.5 L274.0 451.9 L277.0 454.6 L277.9 451.8 L280.1 450.1 L282.9 447.9 L286.1 445.6 L290.0 446.9 L291.7 448.6 L294.1 448.8 L295.3 451.2 L297.1 453.0 L299.1 451.4 L299.8 448.9 M240.0 455.5 L244.0 454.1 L246.8 455.0 L248.9 457.2 L251.1 458.5 L251.9 461.0 L255.1 462.9 L252.3 463.6 L250.0 465.1 L248.8 467.9 L252.1 469.8 L250.8 472.9 L251.1 476.0 L248.9 477.9 L252.1 479.8 M200.0 445.0 L201.0 447.8 L203.2 449.9 L203.7 452.6 L205.1 455.0 L207.9 457.2 L207.4 460.1 L205.9 463.0 L206.1 465.6 L204.2 467.5 L204.2 470.1 L204.9 473.0 L209.0 471.9 L209.5 474.3 L211.1 476.0 L209.8 479.9 M238.5 488.0 L260.0 491.5 L290.0 494.5 M210.0 477.0 L210.3 479.8 L212.1 482.0 L212.6 484.2 L214.4 485.8 L214.9 488.0 L216.4 490.1 L215.8 492.8 L217.1 495.0 L219.4 494.7 L220.9 492.8 L222.7 494.9 L225.1 495.8 L229.1 495.2 L231.2 497.3 L232.9 500.0 L236.1 501.9 L235.7 505.0 L236.1 508.0 M203.0 470.0 L203.4 472.3 L205.1 473.9 L209.1 473.3 L211.1 475.9 L209.0 477.6 L208.6 480.2 L207.0 482.0 L206.3 484.4 L204.0 485.8 L203.1 488.1 L203.0 490.6 L204.3 492.9 L205.5 495.1 L208.0 496.5 L208.8 499.2 L208.3 503.1 L205.3 503.6 L203.0 505.1 L200.7 504.2 L198.3 505.4 L196.0 504.8 L192.9 505.6 L190.0 504.3 M238.5 488.0 L237.0 495.0 L235.5 508.0 L233.0 522.0 L230.0 547.0 M229.0 507.0 L231.8 506.8 L234.0 504.9 L236.1 502.1 M229.0 507.0 L228.6 509.2 L229.3 511.5 L228.4 513.7 L228.6 516.0 L230.8 519.1 L230.2 522.1 L227.7 522.0 L225.5 522.7 L224.8 525.0 L225.9 527.5 L225.3 530.0 L224.8 532.8 L222.9 534.9 L223.1 539.0 L220.0 539.9 L220.2 542.7 L219.4 545.3 L219.7 548.0 L219.1 550.5 L219.9 553.0 L218.4 555.5 L219.2 558.0 L217.7 560.2 L218.0 562.9 L216.8 565.1 L217.2 567.8 L215.9 570.0 M225.5 522.5 L230.0 522.0 L233.0 522.0 M190.0 526.5 L207.0 529.0 L230.0 532.5 M197.5 528.0 L195.6 540.0 M251.0 470.0 L251.2 472.6 L252.1 475.0 L248.9 477.9 L251.5 478.2 L253.6 479.6 L256.0 479.9 L257.8 481.4 L260.3 481.5 L261.9 483.1 L263.8 481.6 L266.1 481.2 L269.9 479.7 L270.7 482.1 L272.2 483.9 L272.8 486.1 L275.3 487.7 L276.8 490.2 L276.1 494.0 L277.8 496.2 L280.1 497.9 L280.9 500.9 L283.2 502.9 L282.2 505.2 L283.2 507.6 L281.8 509.7 L282.1 512.0 L280.3 513.7 L279.9 516.2 L277.7 517.6 L277.1 520.1 L279.8 523.2 L282.4 524.6 L283.9 527.1 L286.1 528.6 L286.4 531.4 L288.7 532.9 L289.9 535.0 M250.0 552.5 L250.0 570.0 M250.0 552.5 L251.4 555.3 L254.1 556.9 L255.8 558.8 L258.0 559.9 L258.3 562.3 L260.1 564.0 L262.8 565.5 L266.0 565.9 L268.6 564.6 L269.8 561.8 L269.2 558.0 L270.8 556.2 L273.1 555.1 L272.5 552.5 L273.2 550.0 L275.1 551.3 L276.9 553.1 L279.2 553.6 L280.9 555.2 L280.6 552.3 L281.3 549.7 L280.9 547.0 L282.8 548.8 L285.1 549.9 L285.1 552.7 L286.4 555.2 L285.8 558.0 L290.0 556.9 M226.0 534.0 L226.6 537.1 L228.1 540.0 L226.7 542.9 L227.1 546.0 L229.9 547.2 M412.0 380.0 L408.5 383.0 L408.5 440.0 M350.0 439.0 L378.0 440.5 L380.0 440.5 M372.5 381.0 L373.3 383.7 L375.1 385.9 L375.8 388.4 L377.9 389.9 L378.8 392.1 L380.7 394.4 L381.9 397.0 L385.1 399.9 L387.9 403.1 M387.0 380.0 L387.0 382.8 L388.7 385.2 L388.9 388.0 L390.5 390.1 L390.7 392.8 L392.1 395.0 L392.1 397.5 L394.0 399.5 L393.8 402.1 L395.1 406.0 M350.0 405.0 L353.0 404.1 L353.3 401.6 L355.2 400.1 L355.8 397.9 L355.9 401.0 L358.4 399.8 L361.1 399.3 L363.7 399.8 L365.9 401.6 L368.4 402.1 L369.9 404.2 L371.5 405.7 L371.8 408.1 L375.1 410.9 L376.6 413.0 L379.1 413.9 L383.1 413.3 L384.7 415.2 L384.9 418.0 L388.0 419.9 L388.8 422.1 L390.1 423.9 L392.9 426.1 L394.3 428.3 L393.8 431.0 L391.1 434.1 L389.9 436.9 L390.1 440.0 M350.0 406.0 L351.8 407.4 L354.0 407.9 L358.0 408.1 L360.3 408.3 L362.0 410.1 L365.1 412.9 L364.6 416.0 L365.1 419.0 L362.5 418.3 L360.0 418.1 L358.2 416.2 L355.9 415.2 L354.2 413.4 L351.9 412.5 L350.1 410.8 M391.0 409.0 L390.0 411.2 L390.7 413.5 L389.6 415.7 L390.2 418.0 L390.2 420.8 L392.2 422.9 L393.1 425.7 L395.1 428.0 L395.3 431.0 L396.2 434.0 L395.2 437.0 L396.3 440.0 M395.0 414.0 L397.9 416.1 L401.1 418.4 L403.5 419.3 L406.0 418.3 L410.0 419.7 L414.0 419.9 L415.7 421.9 L418.1 422.9 L420.9 423.8 L424.0 423.8 L428.0 425.6 L430.4 424.4 L433.0 425.3 L434.9 423.8 L437.1 423.1 L439.5 422.2 L442.0 423.1 L444.3 424.7 L445.9 427.1 L447.8 428.7 L448.3 431.3 L450.1 432.9 M408.5 434.0 L411.9 435.2 L413.3 437.3 L412.8 440.0 M462.0 473.6 L462.5 473.4 L463.9 470.8 L467.1 470.3 L470.0 468.9 L472.3 468.2 L473.9 466.2 L476.1 465.1 L477.6 462.6 L480.2 461.2 L483.0 460.1 L486.0 459.6 L484.7 461.6 L481.9 462.1 L481.0 464.6 L479.0 466.0 L479.1 469.0 L483.0 468.2 L485.5 468.3 L488.0 469.1 L490.8 470.7 L492.9 473.1 L495.7 473.2 L497.9 474.8 L499.8 472.5 L500.0 472.4 M462.0 475.6 L462.9 476.0 L466.1 476.8 L468.2 478.3 L470.9 478.4 L472.9 480.2 L476.1 480.8 L478.9 482.2 L482.3 482.6 L484.9 484.7 M462.0 495.8 L463.2 495.7 L465.9 493.8 L468.7 493.4 L471.0 491.9 L473.2 493.9 L476.1 494.9 L478.8 496.7 L482.1 496.8 L485.1 494.1 L485.4 491.7 L487.2 490.1 M487.0 504.0 L492.0 501.0 L492.0 510.0 L490.5 520.0 L489.5 530.0 L491.0 535.0 L494.0 540.0 L495.5 545.0 L497.5 547.5 L500.0 547.0 M462.0 536.0 L480.0 536.0 M462.0 539.2 L462.9 540.1 L464.9 538.3 L467.0 537.1 L467.6 539.4 L466.4 541.8 L467.2 544.2 L466.4 546.6 L467.1 549.0 M469.0 537.0 L470.8 538.3 L473.1 538.8 L475.7 539.3 L477.9 537.7 M330.0 735.0 L331.7 736.6 L334.0 736.9 L335.5 739.9 L338.2 741.9 L338.3 744.9 L340.4 747.2 L340.9 750.0 L342.2 751.9 L342.4 754.3 L344.1 756.0 L344.8 758.4 L347.4 759.5 L347.9 762.1 L350.0 763.9 L350.0 767.0 L352.2 768.9 L352.2 772.3 L354.1 775.0 L354.7 777.8 L356.6 780.1 L356.9 783.0 L359.3 783.5 L360.7 785.6 L363.1 785.9 L365.1 787.7 L368.1 787.9 L369.9 790.2 L372.7 790.2 L375.2 791.7 L378.0 791.4 L380.9 793.7 L383.9 791.8 L385.1 789.6 L384.3 787.0 M379.0 780.0 L381.0 786.0 L382.0 793.0 M392.0 750.0 L394.0 753.0 L396.0 750.0 L398.0 751.0 M413.0 735.0 L415.0 738.0 L417.0 734.0 L418.0 739.0 M334.0 737.0 L337.0 737.4 L340.0 736.8 L342.5 738.4 L345.5 738.0 L347.9 739.7 L350.6 739.0 L353.4 739.7 L356.0 738.8 L358.4 739.5 L360.6 738.0 L363.0 738.7 L365.1 737.1 L367.9 737.6 L369.9 735.8 L372.3 734.3 L373.8 731.8 L375.7 730.0 L375.6 727.2 L377.1 725.1 L376.8 722.4 L378.8 720.5 L378.9 718.0 L379.9 715.4 L380.0 712.6 L381.1 710.0 M363.0 738.5 L364.3 740.4 L366.2 741.8 L364.2 743.6 L364.1 746.1 L365.7 747.6 L368.0 747.9 L369.1 750.3 L371.2 751.9 L370.9 755.0 L374.0 756.4 L375.9 759.2 L378.2 760.5 L378.8 763.2 L380.1 766.0 L377.3 766.6 L375.0 768.1 L373.9 770.4 L374.2 773.0 L377.0 775.1 L378.4 777.3 L378.8 780.1 M376.0 759.0 L378.2 757.2 L379.7 754.7 L382.1 753.1 L383.4 751.1 L385.3 749.8 L386.0 747.3 L388.0 746.0 L388.9 743.6 L391.3 742.2 L392.3 739.8 L394.1 738.1 L395.4 736.2 L397.8 735.4 L398.3 732.7 L400.6 731.8 L401.8 729.8 L403.7 727.8 L403.8 724.9 L405.2 722.6 L405.9 720.0 L405.8 717.4 L404.3 715.1 L404.9 712.4 L403.7 710.1 M402.0 730.0 L404.1 731.6 L406.9 731.5 L409.0 733.1 L410.5 730.8 L413.1 730.1 L415.3 729.2 L417.7 729.9 L420.0 728.8 L422.7 729.3 L424.9 727.3 L427.6 728.0 L430.0 726.8 M335.0 718.0 L335.3 720.8 L337.8 722.7 L337.5 725.7 L339.1 728.0 L338.0 730.6 L338.4 733.5 L336.9 736.0 M335.0 718.0 L337.5 717.4 L339.5 715.6 L342.1 715.2 L342.2 712.4 L343.1 710.0 M330.0 716.0 L332.4 717.2 L335.0 717.9 M382.0 770.0 L381.7 772.7 L383.2 775.3 L382.9 778.0 L383.9 780.2 L383.4 782.6 L384.7 784.7 L384.3 787.0 M440.0 683.2 L462.2 683.4 M455.6 670.0 L455.7 672.6 L457.8 674.6 L457.8 677.3 L457.7 679.5 L455.6 681.1 L456.0 683.8 L454.3 685.5 L453.3 687.8 L451.4 689.4 L450.4 691.7 L449.7 694.7 L450.9 697.6 L451.7 700.3 L453.9 702.4 L452.2 704.1 L452.5 706.8 L450.6 708.3 L450.3 710.6 L448.6 712.3 L447.9 714.5 L448.8 716.5 L450.5 718.2 L451.2 720.5 L451.8 722.8 L451.0 725.2 L452.3 727.6 L451.9 730.0 L450.9 733.6 M462.2 670.0 L461.7 672.2 L462.7 674.5 L462.0 676.7 L462.7 679.0 L461.9 681.2 L462.3 683.4 L462.0 686.3 L464.1 688.7 L463.9 691.6 L464.9 694.5 L465.0 697.6 L464.2 699.8 L461.6 700.4 L460.5 702.5 L459.3 704.7 L459.4 707.4 L457.9 709.6 L458.6 712.6 L457.9 715.6 L460.6 717.2 L462.8 719.3 L465.2 718.5 L467.6 719.8 L470.0 719.0 L472.4 719.7 L474.9 718.8 L477.2 720.0 L479.8 722.7 L477.0 723.5 L474.8 725.3 L473.5 727.6 M459.2 713.2 L461.5 713.4 L463.8 712.8 L466.1 713.5 L468.3 711.9 L470.6 713.2 L472.9 712.4 L475.2 713.3 L477.4 711.6 L479.7 712.9 L482.0 712.1 L482.4 715.6 L481.5 718.1 L482.3 720.7 L484.6 722.7 L488.0 722.9 M475.4 670.0 L474.7 672.4 L475.4 674.8 L474.7 677.2 L474.9 679.6 L473.3 681.5 L472.9 684.1 L470.8 685.7 L470.2 688.1 L468.0 690.0 L468.3 693.2 L465.6 694.8 L465.4 697.7 M440.0 724.6 L441.6 726.6 L444.5 726.7 L445.9 729.0 L449.0 729.2 L452.0 730.2 M488.0 722.8 L490.9 722.7 L492.7 720.1 L495.0 722.0 L497.1 719.7 L499.3 721.6 L501.4 718.8 L503.6 720.6 L505.7 718.4 L507.8 720.9 L509.9 719.0 L512.0 720.8 L513.7 718.9 L516.4 719.9 L517.8 717.5 L520.6 719.7 L522.7 716.7 L525.2 717.6 L527.3 716.8 L529.1 718.5 L531.2 717.8 L533.1 720.5 L536.1 718.9 L536.2 722.2 L540.2 721.4 L540.4 724.4 L542.4 727.5 L544.4 727.3 L545.4 724.5 L548.1 724.8 L549.3 722.2 L552.5 722.5 L553.9 720.3 L556.6 721.2 L557.5 717.5 L560.1 718.3 M505.4 714.4 L503.4 717.9 L506.7 720.3 M440.0 736.0 L442.5 736.4 L444.8 735.3 L448.0 735.3 L450.7 733.4 M592.2 690.0 L590.0 696.6 M590.0 707.6 L591.6 712.8 L596.4 721.2 L602.4 729.6 L607.2 738.0 L612.0 747.6 L616.8 757.2 L619.2 766.8 L619.2 774.0 L618.0 781.2 L619.2 783.6 L615.6 786.0 L612.0 787.2 L608.4 787.2 L606.6 784.8 M555.6 718.2 L560.4 719.4 L565.2 723.6 L570.0 728.4 L573.0 732.0 L576.0 731.4 L579.0 735.6 L579.0 742.8 L578.4 748.8 L580.8 752.4 L583.2 757.2 L586.8 763.2 L590.4 769.2 L594.0 766.8 L595.2 771.6 L597.6 776.4 L602.4 780.0 L606.0 784.8 L608.4 787.2 M573.0 732.0 L573.9 729.3 L573.8 726.3 L574.9 723.6 L577.0 719.9 L579.7 720.3 L581.9 718.4 L584.4 718.9 L586.0 716.8 L588.1 715.3 L591.5 712.7 M265.0 390.0 L259.0 428.0 M345.6 390.0 L345.0 438.0 M290.0 433.0 L319.0 437.0 L345.0 438.0 L388.0 440.0 M319.0 437.0 L315.0 483.0 L312.4 497.0 L310.0 528.0 L308.0 558.0 M315.0 483.0 L380.0 486.3 M310.0 528.0 L340.0 529.0 L368.0 531.0 L380.0 532.2 M278.0 493.0 L312.4 497.0 M295.0 557.6 L294.0 570.0 L292.4 590.0 M331.0 560.0 L330.0 576.0 L329.0 590.0 M330.0 576.0 L380.0 578.0 L410.0 579.0 M402.0 568.0 L440.0 567.0 M400.4 560.0 L400.3 560.9 L401.7 563.1 L401.3 565.7 L402.3 568.0 L402.7 570.3 L405.0 571.6 L405.1 574.3 L407.4 575.7 L407.9 578.1 L409.3 579.9 L409.8 582.1 L411.3 583.8 L411.7 586.2 L413.2 587.9 L413.9 590.1 M317.0 450.0 L320.1 448.2 L323.1 448.7 L326.0 450.1 L328.1 447.5 L331.1 446.2 L332.6 448.8 L332.9 452.0 L335.8 453.7 L337.9 456.1 L340.4 457.6 L341.9 460.1 L344.3 461.7 L345.8 464.2 L347.7 465.8 L348.8 468.1 L350.5 470.8 L350.8 474.1 L353.3 475.7 L354.8 478.2 L354.9 481.3 L352.9 484.0 L354.8 486.7 L354.8 490.1 L356.2 492.9 L355.8 496.0 L355.3 498.2 L353.8 499.9 L353.1 502.0 L351.6 503.8 L351.1 506.0 L352.6 507.7 L355.0 507.9 L357.0 510.7 L360.1 511.9 L362.2 511.3 L363.9 509.8 L364.6 513.1 L366.3 515.9 L364.1 517.7 L363.2 520.2 L361.6 521.8 L361.3 524.2 L359.8 525.9 L358.1 529.1 M300.0 453.0 L301.9 455.1 L305.1 454.7 L308.0 456.2 L308.7 453.6 L311.0 452.2 L311.9 449.9 L314.5 450.4 L317.0 449.8 M278.0 493.0 L278.4 495.5 L280.2 497.4 L280.6 499.9 L282.2 501.9 L281.3 504.5 L282.4 507.1 L280.7 509.4 L281.1 512.0 L279.5 513.7 L279.3 516.1 L277.2 517.6 L277.2 520.1 L278.4 521.9 L280.9 522.5 L282.1 524.7 L284.1 525.9 L285.1 528.3 L287.7 529.5 L288.3 532.2 L290.1 533.9 L290.8 536.7 L292.6 539.1 L292.8 542.1 L293.2 544.7 L291.8 547.3 L292.5 550.0 L292.7 552.7 L294.4 555.0 L294.8 557.7 M290.0 530.0 L292.3 530.9 L294.7 530.3 L297.0 531.2 L297.8 533.2 L296.7 535.4 L297.4 537.6 L296.7 539.8 L297.1 542.0 L299.3 541.0 L301.2 539.4 L303.8 539.1 L305.4 536.7 L308.2 536.9 L309.9 534.8 M310.0 528.0 L312.5 529.4 L315.5 528.8 L318.0 530.2 L319.6 527.9 L322.3 527.5 L323.5 524.9 L326.1 524.2 L328.9 522.8 L332.0 522.1 L335.2 522.3 L338.0 524.1 L336.2 525.5 L333.8 525.7 L332.8 527.2 M332.8 527.2 L332.4 527.7 L330.0 527.9 L332.8 527.2 M332.8 527.2 L333.0 527.1 L336.0 528.2 L338.7 527.8 L341.3 528.2 L344.0 527.9 L346.5 529.6 L349.6 529.2 L351.9 531.2 L354.8 530.5 L357.3 532.2 L360.0 531.9 M320.0 541.0 L322.2 538.7 L323.9 535.9 L326.4 534.4 L327.9 531.9 L331.0 531.8 L333.2 529.6 L336.1 529.1 M320.0 541.0 L320.2 543.8 L322.1 546.0 L323.9 547.5 L326.3 548.2 L327.9 550.1 L330.1 551.5 L331.8 553.5 L334.1 554.8 L335.5 557.2 L338.2 558.1 L339.9 560.1 L341.3 561.9 L341.7 564.2 L343.2 565.9 L340.4 567.8 L338.1 570.1 L336.1 572.3 L335.1 575.1 M360.0 531.0 L362.6 532.2 L365.4 532.7 L368.0 534.1 L370.2 535.0 L371.6 537.3 L374.1 537.9 L374.7 540.4 L377.2 541.6 L377.9 544.1 L377.3 546.2 L375.9 547.9 L378.7 547.7 L380.0 548.3 M386.8 560.0 L387.2 562.0 L387.7 564.3 L389.8 565.8 L390.5 568.2 L392.2 569.9 L392.0 572.7 L393.3 575.3 L392.9 578.0 L392.8 580.5 L391.1 582.6 L391.5 585.3 L390.0 587.5 L390.2 590.1 M334.0 576.0 L335.7 578.3 L338.2 579.8 L338.3 582.5 L339.6 584.9 L338.7 587.7 L340.2 590.0 M327.0 390.0 L328.1 392.2 L330.5 393.1 L331.8 395.2 L336.0 393.8 L337.6 396.4 L340.6 397.4 L341.8 400.2 L344.2 401.7 L345.5 404.1 M549.0 390.0 L550.8 393.1 L550.6 395.3 L548.3 396.6 L548.2 399.1 M561.0 390.0 L565.0 408.0 L568.0 430.0 L569.7 440.0 M493.0 390.0 L492.8 392.7 L494.2 395.3 L493.8 398.0 L495.8 399.7 L496.5 402.1 L498.1 403.9 L498.1 406.8 L500.1 409.1 L499.9 412.0 L502.2 412.5 L503.9 414.2 L506.1 414.9 L507.9 416.2 L510.1 416.9 L513.1 416.3 L515.9 414.8 L519.9 416.3 L522.6 415.0 L525.4 416.1 L528.0 414.7 L530.8 414.4 L533.3 412.8 L536.1 412.2 L538.6 410.8 L541.6 410.6 L544.0 408.9 L546.1 408.3 L547.7 406.3 L550.2 406.3 L551.9 404.9 L554.8 404.8 L557.1 402.8 L560.0 403.1 L562.1 404.2 L563.2 406.5 L565.2 407.8 M440.0 422.0 L441.9 423.8 L444.5 424.8 L445.8 427.2 L447.8 429.1 L448.5 431.8 L450.2 433.9 L450.4 437.2 L452.1 440.0 L452.2 440.0 M462.0 443.5 L463.3 443.9 L466.0 443.9 L469.0 443.8 L472.0 442.9 L474.4 441.8 L475.8 439.4 L478.2 438.2 L482.0 436.8 L484.8 438.5 L488.0 438.9 L491.1 439.2 L494.0 437.9 L496.8 439.7 L500.1 439.8 L500.1 440.0 M527.7 440.0 L529.2 438.1 L531.5 437.3 L534.0 437.1 L536.8 437.1 L539.2 438.7 L542.1 438.8 L544.6 439.1 L546.9 437.6 L549.7 438.3 L552.0 436.8 L554.7 437.0 L557.2 435.6 L560.0 436.1 L562.6 436.2 L565.0 437.2 L567.3 438.1 L567.6 440.0 M596.0 440.0 L596.4 437.6 L599.0 436.4 L599.8 433.9 L600.0 433.7 M602.2 430.0 L602.2 429.9 L603.8 428.1 L604.4 425.7 L606.2 424.1 L606.8 421.5 L609.4 420.3 L610.3 417.8 L612.2 416.1 L613.1 413.7 L615.5 412.4 L616.0 409.6 L618.2 408.1 L620.6 408.2 L622.9 409.4 L625.6 408.8 L628.0 410.2 L630.4 410.7 L631.6 413.3 L634.1 413.8 L635.7 415.8 L638.1 416.5 L639.9 418.2 M462.0 475.8 L462.1 475.8 M462.0 538.1 L462.5 538.2 L463.7 540.8 L466.1 541.9 L467.6 540.3 L467.9 537.9 L470.6 538.6 L472.9 536.6 L475.6 537.9 L478.0 536.7 M466.0 542.0 L464.7 544.5 L465.3 547.5 L463.9 550.0 L463.0 552.3 L462.0 553.0 M457.8 560.0 L457.7 560.3 L455.9 561.9 L455.8 564.8 L453.8 566.9 M749.0 397.0 L747.9 399.2 L749.2 401.8 L747.7 404.0 M710.4 374.2 L716.0 372.1 L725.8 372.1 L735.6 373.5 L740.5 375.6 L738.4 377.7 L730.0 379.1 L721.6 378.4 L714.6 376.3 L710.4 374.2 M704.8 370.0 L696.4 372.8 L690.1 376.3 L686.6 381.2 L685.2 388.2 L683.8 392.4 L678.2 395.2 L675.4 398.0 L673.3 403.6 L671.2 409.2 L669.8 416.2 L667.0 426.0 L665.4 430.0 M667.7 430.0 L668.4 428.8 L671.2 421.8 L675.4 416.2 L681.0 409.2 L686.6 402.2 L692.2 395.2 L697.8 389.6 L703.4 386.8 L710.4 386.1 L716.0 387.5 L718.8 391.0 L719.5 395.2 L718.1 399.4 L714.6 402.2 L710.4 403.6 L704.8 403.6 L699.2 406.4 L695.0 409.9 L692.2 412.0 L683.8 413.4 L681.7 416.2 L682.4 421.8 L678.2 425.3 L674.7 426.0 M714.6 402.2 L718.8 403.6 L720.2 402.2 L719.5 406.4 L717.4 410.6 L716.7 416.2 L720.2 416.9 L721.6 420.4 L725.8 423.2 L730.0 426.0 L734.2 427.4 L738.4 428.8 L744.0 428.1 L749.6 427.4 L753.8 426.0 L756.6 423.2 M692.2 412.0 L693.6 423.2 L694.7 430.0 M674.7 426.0 L673.5 430.0 M682.4 421.8 L688.0 423.2 L691.5 424.6 L693.6 426.0 M720.0 441.6 L723.0 438.6 L727.2 435.8 L730.0 431.6 L732.8 428.8 M732.8 428.8 L730.3 429.6 L728.8 431.9 L727.4 434.3 L727.5 437.3 L729.8 440.2 L732.4 437.6 L735.7 438.9 L738.3 437.5 L741.2 437.4 M741.2 437.4 L741.2 437.4 L743.7 434.7 L741.8 435.8 L741.2 437.4 M741.2 437.4 L740.8 438.3 L738.2 438.2 L739.1 441.6 L736.1 442.7 L733.4 442.8 L733.1 439.7 L731.8 443.0 L728.4 442.5 L728.0 445.3 L724.3 445.4 L724.6 448.6 L722.1 449.6 L723.5 452.6 L721.4 453.9 L721.3 456.4 L720.0 458.1 M720.0 460.8 L720.1 461.2 L720.3 463.9 L723.2 465.0 L725.4 468.4 L728.3 468.7 L729.8 471.1 L730.3 467.9 L733.0 466.7 L733.2 463.3 L736.6 462.6 L736.8 459.4 L738.8 456.9 L737.5 453.6 L740.2 451.3 L741.5 449.1 L744.2 448.7 L744.9 445.7 L748.1 446.0 L749.4 443.9 L752.8 443.2 L753.4 439.6 L756.9 438.9 L757.8 435.6 L761.3 434.9 L761.8 431.2 L765.6 430.8 L766.1 427.1 L763.7 425.8 L762.5 424.0 L762.3 421.8 L760.6 420.0 L761.1 417.5 L758.9 415.4 L761.8 412.8 L759.5 410.7 L762.5 408.8 L760.7 405.7 L762.7 403.7 L764.9 402.0 L764.3 404.8 L766.9 406.2 L765.3 409.6 L768.1 411.9 L770.5 413.1 L771.9 410.2 L775.3 412.5 L775.6 415.2 L773.2 417.5 L771.7 419.5 L768.9 420.0 L770.0 423.1 L766.9 423.9 L766.9 426.2 M728.6 413.4 L727.2 419.0 L730.0 421.8 L734.2 421.1 L738.4 421.8 L744.0 420.4 L748.2 417.6 L752.4 414.8 L748.2 416.9 L744.0 419.0 L738.4 419.7 L732.8 419.0 L730.0 416.2 L728.6 413.4 M749.6 396.6 L751.0 398.0 L748.2 402.2 L748.9 404.3 M784.6 442.8 L787.4 442.1 M772.0 370.0 L770.6 377.0 L769.2 384.0 L772.0 388.2 L776.2 386.8 L780.4 383.3 L786.0 381.2 L791.6 378.4 L797.2 375.6 M767.8 374.2 L770.6 370.7 M738.4 451.2 L744.0 448.4 L739.8 454.0 M247.0 590.0 L242.0 613.0 L240.0 634.0 M240.0 613.0 L270.0 616.0 L300.0 620.0 L328.0 621.0 L360.0 622.4 L388.0 623.0 L417.0 623.0 M315.6 621.0 L310.0 696.0 M240.0 694.0 L264.0 693.0 L310.0 696.0 M315.6 628.0 L351.0 629.0 L351.0 660.0 M351.0 660.0 L353.1 661.3 L355.6 661.7 L357.7 663.2 L360.1 663.9 L362.5 664.7 L365.1 664.5 L367.4 666.1 L370.0 665.8 L372.9 667.2 L376.1 667.8 M417.0 590.0 L417.0 623.0 L418.0 631.0 L420.0 646.0 L421.0 674.0 M421.0 674.0 L423.3 675.6 L426.1 675.8 L425.8 678.7 L427.5 681.2 L426.8 684.0 M418.0 631.0 L440.0 630.0 M426.0 684.0 L440.0 685.0 M427.0 684.0 L427.0 686.5 L428.7 688.7 L427.6 691.3 L429.1 693.5 L428.8 696.0 L429.8 698.3 L429.7 700.7 L431.2 702.9 L430.2 705.5 L432.1 707.5 L431.8 710.0 L432.5 712.6 L431.1 715.0 L431.6 717.5 L430.7 720.0 L431.5 722.8 L429.9 725.3 L430.2 728.0 L430.5 731.2 L432.3 733.9 M376.0 668.0 L378.6 668.9 L381.5 668.7 L383.9 670.2 L386.7 670.4 L389.2 671.8 L392.1 671.8 L394.7 672.2 L397.2 670.6 L400.0 671.3 L402.6 670.6 L405.0 671.7 L407.6 671.1 L410.0 672.1 L412.7 672.6 L414.5 674.9 L417.1 675.9 L419.2 675.5 L420.9 673.9 M264.0 693.0 L264.8 695.3 L267.4 696.2 L267.8 698.8 L270.2 699.9 L271.0 702.4 L273.4 703.7 L273.9 706.4 L276.2 707.9 L277.6 710.2 L279.9 711.7 L281.0 714.3 L283.2 715.9 L283.8 718.8 L285.3 721.2 L285.8 724.1 L287.4 726.5 L286.6 729.5 L288.2 732.0 L289.8 733.3 L292.4 733.3 L293.6 735.8 L296.1 735.8 L297.8 737.8 L300.2 738.8 L301.5 741.1 L304.1 741.9 L307.0 740.6 L308.9 737.9 L310.7 736.0 L310.3 733.0 L312.2 731.1 L314.6 730.0 L317.4 731.1 L320.0 729.9 L322.5 731.5 L325.4 731.0 L327.9 732.2 L330.6 733.4 L331.6 736.4 L334.1 737.9 M310.0 696.0 L307.8 696.7 L306.3 698.6 L303.9 698.8 L306.4 700.6 L307.9 703.1 L310.8 703.7 L313.1 705.6 L316.0 705.9 L317.8 707.5 L320.3 707.5 L321.9 709.2 L324.1 709.8 L325.6 711.9 L328.4 712.1 L329.9 714.1 L332.3 714.9 L333.5 717.4 L336.0 717.9 L334.8 720.9 L335.2 724.0 L335.5 726.3 L337.2 727.9 L337.8 730.1 L338.9 732.3 L337.4 734.7 L338.1 737.0 M351.0 629.0 L348.1 629.8 L346.1 632.2 L344.2 634.4 L344.2 637.4 L342.9 640.0 L342.4 642.2 L340.2 643.6 L340.1 646.0 L337.7 647.4 L336.2 649.8 L333.5 650.7 L332.2 653.2 L333.6 655.9 L336.1 657.9 L336.3 661.2 L338.1 664.0 L337.0 666.6 L337.5 669.5 L335.9 672.0 L334.2 674.7 L331.9 676.9 L333.4 679.3 L333.8 682.1 L332.3 684.3 L329.8 685.8 L328.1 688.1 L328.4 690.3 L330.2 691.9 L330.9 694.0 L331.2 696.7 L329.8 699.3 L330.2 702.0 L330.8 704.1 L332.7 705.7 L332.6 708.2 L334.1 709.9 L334.5 712.2 L336.2 713.9 L336.8 716.1 M337.0 716.0 L339.3 715.0 L340.0 712.3 L342.2 711.2 L344.6 710.3 L347.4 711.2 L350.0 709.8 L352.4 711.1 L355.1 710.0 L357.5 711.1 L360.0 710.8 L362.8 711.5 L365.3 710.0 L368.0 710.1 L367.1 707.8 L367.5 705.4 L366.0 703.4 L366.2 701.0 L368.5 702.0 L369.9 704.5 L372.2 705.8 L374.0 707.7 L376.7 707.4 L378.6 709.3 L381.1 709.8 L379.9 712.4 L381.2 715.1 L380.0 717.5 L380.1 720.0 L378.7 721.8 L378.3 724.1 L376.3 725.7 L376.2 728.1 L373.5 729.5 L372.6 732.6 L369.9 733.9 L368.3 736.1 L365.6 736.9 L364.1 739.1 L361.3 738.3 L358.7 739.8 L356.0 738.9 L353.3 739.3 L350.7 738.1 L348.0 738.1 L345.5 737.5 L343.0 737.8 L340.5 736.9 L338.0 737.2 M360.0 711.0 L360.1 708.6 L358.4 706.6 L359.2 704.1 L357.8 702.0 L357.4 699.2 L355.5 696.9 L355.2 693.9 L354.5 691.4 L356.3 689.1 L355.4 686.5 L356.2 684.0 L355.3 681.0 L356.1 678.0 L357.4 675.0 L360.1 673.1 L362.6 671.9 L365.5 672.2 L368.0 670.9 L371.0 670.8 L373.2 668.8 L376.0 668.1 M336.0 592.0 L337.9 593.2 L340.3 593.5 L341.8 595.3 L344.1 595.8 L346.1 598.5 L349.1 599.8 L347.9 602.6 L349.0 605.4 L347.8 608.0 L348.1 610.8 L346.1 612.9 L346.1 615.6 L344.9 618.0 L346.2 622.0 M334.0 626.0 L337.2 625.7 L340.0 623.9 L342.6 624.5 L345.4 623.9 L348.0 625.2 L349.2 628.9 M292.0 590.0 L291.8 592.7 L293.5 595.2 L292.9 598.0 L293.1 600.5 L292.3 603.0 L292.9 605.6 L291.9 608.0 L293.8 609.7 L294.5 612.4 L297.2 613.5 L297.9 616.1 L299.2 617.9 L299.9 620.1 L298.4 622.0 L295.9 622.5 L294.1 624.1 L292.2 625.9 L291.2 628.4 L288.8 629.9 L288.5 632.4 L286.9 634.5 L287.2 637.1 L288.0 639.8 L291.1 641.2 L291.9 644.1 L293.7 646.4 L293.2 649.6 L295.1 652.0 L295.1 654.8 L296.5 657.3 L296.7 660.1 L298.0 662.4 L296.7 665.1 L298.6 667.4 L297.9 670.0 L299.0 672.4 L298.7 675.1 L299.9 677.4 L299.8 680.0 L301.0 682.4 L300.6 685.1 L302.0 687.4 L301.8 690.0 L303.1 692.1 L302.8 694.6 L303.8 696.7 L303.8 699.0 M240.0 656.0 L242.9 656.1 L245.2 654.2 L248.0 654.1 L250.5 653.2 L253.0 654.5 L255.5 653.1 L258.0 654.1 L260.3 655.3 L261.6 657.8 L264.1 658.8 L266.6 659.1 L269.0 657.9 L268.8 660.3 L270.3 662.4 L269.3 664.8 L270.3 667.0 L272.9 668.4 L276.0 668.9 L278.2 667.8 L279.9 665.9 L282.5 666.5 L285.0 666.2 L287.4 667.6 L290.0 666.9 L291.3 664.5 L290.9 661.6 L292.1 659.0 L294.3 660.1 L295.9 662.2 M244.0 660.0 L246.8 659.5 L249.0 657.2 L252.1 657.2 L254.7 656.4 L257.3 657.8 L260.0 656.8 M246.0 665.0 L248.4 664.7 L249.7 662.4 L252.1 662.2 L254.0 660.9 L256.3 662.4 L259.0 661.8 L257.3 663.7 L256.8 666.2 L254.5 667.6 L254.1 670.0 L252.5 672.5 L253.4 675.5 L251.9 678.0 L249.5 678.4 L247.0 677.3 L244.5 678.3 L242.0 677.8 L241.5 680.2 L239.9 681.9 M240.0 694.0 L240.7 697.1 L242.1 700.0 M388.0 590.0 L387.7 592.2 L388.8 594.4 L388.1 596.7 L389.0 598.9 L388.3 601.1 L389.0 603.3 L388.0 605.6 L389.7 607.7 L388.7 610.0 L389.2 612.6 L388.3 615.2 L389.3 617.9 L387.9 620.4 L388.1 623.0 L387.7 625.7 L389.1 628.0 L391.2 630.0 L394.1 630.9 L395.6 629.0 L395.4 626.3 L397.2 624.3 L397.8 621.9 L398.2 624.8 L399.5 627.3 L399.7 630.1 L401.6 632.3 L401.2 635.3 L403.4 637.3 L403.9 640.0 L406.2 641.1 L407.7 643.2 L410.1 643.9 L408.7 646.4 L408.2 649.1 L405.4 649.4 L403.1 650.8 L400.3 650.6 L398.1 652.3 L395.9 653.6 L395.0 656.3 L392.9 657.9 L394.1 660.6 L393.9 663.4 L395.2 666.0 L396.2 668.1 L398.8 668.8 L399.9 671.1 M389.0 628.0 L387.9 630.4 L389.3 633.1 L387.6 635.4 L388.3 638.0 L384.8 638.3 L382.0 640.1 L382.1 642.8 L383.8 645.2 L383.8 648.1 L381.8 649.6 L378.9 649.8 L380.1 652.9 L379.9 656.0 L377.1 656.8 L374.0 656.9 L374.9 659.1 L374.4 661.5 L375.5 663.6 L375.1 665.9 L376.1 668.0 M417.0 623.0 L414.7 624.9 L414.0 627.9 L411.8 629.9 L412.4 632.4 L410.9 634.6 L411.7 637.1 L410.0 639.2 L410.6 641.7 L409.9 644.0 M440.0 592.0 L437.9 592.8 L436.1 594.2 L433.9 594.7 L432.1 596.1 L430.8 597.9 L430.3 600.1 L428.6 601.8 L428.1 604.0 L426.8 606.4 L427.3 609.2 L425.6 611.4 L425.1 614.0 L423.0 615.2 L421.8 617.4 L419.3 618.0 L418.1 620.1 M417.0 676.0 L415.8 677.9 L415.8 680.4 L413.9 681.9 L412.3 683.8 L409.7 684.2 L408.1 686.2 L406.5 688.5 L406.5 691.5 L404.8 693.9 L405.1 696.4 L403.8 698.7 L404.7 701.2 L403.8 703.6 L404.3 706.0 L403.6 708.7 L405.4 710.9 L405.1 713.6 L406.1 716.0 L404.5 718.5 L404.6 721.5 L402.8 723.9 L402.1 728.0 L404.6 728.9 L407.5 728.8 L410.0 730.1 L412.4 728.8 L415.1 729.5 L417.4 728.0 L420.0 728.2 L422.5 727.8 L425.0 728.5 L427.5 727.2 L430.0 728.1 M426.0 676.0 L425.6 678.4 L427.0 680.6 L426.1 683.1 L427.8 685.3 L427.2 687.7 L428.1 690.0 L428.1 692.4 L429.2 694.6 L428.8 697.1 L430.5 699.2 L429.6 701.9 L431.2 704.0 L431.4 706.7 L432.7 709.2 L432.9 712.0 L433.5 714.8 L431.4 717.2 L432.2 720.0 M432.0 734.0 L434.1 732.4 L434.7 729.6 L437.5 728.5 L438.1 725.8 L440.1 724.0 M430.0 728.0 L432.6 727.9 L434.9 726.6 L437.6 726.9 L440.0 725.9 M593.8 680.0 L593.9 680.1 M594.0 680.0 L592.0 690.0 L590.0 698.0 M590.0 705.0 L593.0 714.0 M440.0 683.0 L462.0 683.0 M195.0 540.0 L184.0 600.0 L183.0 606.0 M250.0 555.0 L243.0 613.0 M228.0 548.0 L250.0 555.0 L296.0 557.0 L308.0 557.6 L332.0 559.4 M183.0 604.0 L243.0 613.0 M243.0 613.0 L238.0 650.0 L231.0 698.0 M231.0 698.0 L242.0 700.0 L243.0 693.0 L264.0 693.0 M161.0 666.0 L206.0 694.0 L231.0 698.0 M183.0 606.0 L181.5 608.8 L181.2 612.1 L181.5 614.9 L183.2 617.3 L183.9 620.0 L181.3 619.3 L179.6 616.9 L177.0 616.1 L173.0 615.9 L173.1 618.5 L171.7 620.9 L172.9 623.6 L171.9 626.0 L171.7 628.5 L170.5 630.9 L171.1 633.6 L169.8 636.0 L171.8 638.4 L171.4 641.6 L173.2 643.9 L170.1 645.5 L168.1 648.1 L167.0 650.6 L167.5 653.6 L165.8 655.9 L165.0 658.2 L162.9 659.7 L162.0 662.0 L160.8 666.0 M296.0 557.0 L294.7 559.0 L295.2 561.5 L293.5 563.3 L293.9 565.9 L292.1 567.7 L292.1 570.0 L292.1 572.7 L293.7 574.9 L293.5 577.7 L295.2 579.9 L294.3 582.5 L296.2 584.7 L295.4 587.2 L296.4 589.5 L295.8 592.0 M308.0 540.0 L308.0 557.6 M296.0 540.0 L296.0 557.0 M220.0 548.0 L219.8 550.4 L220.8 552.6 L220.0 555.0 L221.1 557.3 L220.1 559.7 L221.1 562.0 L219.6 563.9 L219.0 566.3 L217.0 567.9 L216.1 570.0 L214.5 571.7 L214.5 574.3 L212.5 575.8 L212.3 578.1 L210.9 579.9 L208.8 581.0 L206.2 580.8 L204.1 582.2 L202.8 584.5 L203.1 587.4 L201.9 590.0 L200.2 591.8 L197.5 592.4 L196.3 594.9 L193.9 595.8 L191.5 597.4 L188.6 597.1 L186.0 598.2 L183.9 599.9 M217.0 570.0 L220.0 569.1 L221.2 571.9 L218.8 573.0 L218.0 575.4 L215.4 575.9 L214.9 578.6 L212.2 579.0 L211.1 581.1 M183.0 606.0 L185.2 607.2 L187.8 607.0 L189.9 608.2 L189.6 610.3 L187.7 611.8 L187.2 614.1 L188.7 615.8 L191.1 616.9 L191.9 620.0 L190.5 622.1 L187.8 622.4 L186.1 624.2 L184.3 622.1 L181.9 621.1 L182.1 623.4 L183.3 625.6 L182.8 628.0 L180.1 630.2 L178.8 632.9 L179.1 636.0 L181.6 635.2 L183.9 633.8 L186.3 633.1 L187.7 630.9 L190.0 630.0 L193.2 630.4 L196.0 632.1 L196.3 633.2 M196.3 633.2 L196.7 634.3 L196.4 635.6 M196.4 635.6 L196.1 636.8 L197.2 639.0 L196.9 636.7 L196.4 635.6 M196.4 635.6 L195.9 634.7 L196.3 633.2 M196.3 633.2 L196.6 632.2 L195.2 630.2 L195.2 628.0 L197.9 626.6 L201.0 626.1 L201.0 622.9 L202.1 620.0 L204.3 620.5 L205.6 622.8 L208.1 622.9 L208.4 625.7 L209.5 628.3 L209.9 631.0 L211.8 633.0 L211.7 635.9 L214.1 637.5 L214.9 640.1 L216.9 641.7 L217.9 644.1 L220.2 645.4 L221.8 647.6 L224.0 648.9 L226.3 649.9 L228.7 649.0 L230.9 650.3 L233.3 649.4 L235.6 650.5 L238.0 649.9 M186.0 636.0 L187.3 638.2 L189.6 639.7 L190.4 642.3 L192.8 643.7 L193.9 646.1 L196.0 647.2 L196.8 649.6 L199.4 650.2 L199.9 652.9 L202.1 653.9 L203.3 656.2 L205.2 657.8 L206.2 660.2 L208.2 661.9 L209.6 663.6 L212.0 664.4 L213.1 666.7 L215.1 667.8 L217.6 667.3 L219.9 665.8 L221.9 669.1 L219.2 670.6 L216.0 670.9 L213.1 672.0 L210.0 671.8 L210.5 674.8 L208.6 677.2 L209.1 680.0 L210.0 682.4 L212.1 683.9 L209.6 686.2 L208.1 689.1 L206.3 686.9 L203.5 686.3 L202.1 683.9 L201.6 686.7 L199.8 688.9 L199.2 691.1 M140.0 576.0 L142.4 577.1 L145.0 576.8 L146.4 578.9 L148.6 580.1 L149.8 582.2 L151.6 583.8 L152.5 586.1 L154.1 587.9 L155.8 590.2 L158.1 591.9 L155.8 593.5 L155.1 596.1 L157.4 596.1 L159.5 594.5 L162.0 595.2 L164.9 593.9 L168.0 594.1 L169.5 596.8 L169.8 600.1 L170.4 602.3 L168.9 604.4 L169.7 606.8 L168.8 609.0 L170.9 607.1 L173.7 606.9 L175.4 604.6 L178.1 604.1 L179.9 601.3 L183.1 600.1 M238.0 656.0 L241.1 656.0 L244.0 654.9 L246.7 654.9 L249.3 654.1 L252.0 654.1 L254.7 654.0 L257.3 655.1 L260.0 654.9 L260.4 657.7 L262.2 659.9 L260.6 661.8 L260.6 664.3 L258.8 665.9 L257.6 668.2 L255.5 669.8 L254.2 672.1 L253.3 674.6 L253.7 677.4 L252.9 680.0 L250.6 679.7 L248.5 678.1 L246.0 678.1 L242.9 678.6 L240.1 680.2 L238.4 678.1 L235.8 677.7 L234.1 675.8 L234.2 678.7 L233.0 681.3 L233.1 684.0 L231.8 686.9 L231.2 690.1 M250.0 555.0 L251.8 556.8 L254.1 557.9 L255.8 560.2 L258.1 561.9 L260.6 562.6 L263.4 562.1 L266.0 563.2 L267.7 560.2 L270.2 558.2 L273.1 560.9 L273.5 558.7 L271.8 556.6 L272.5 554.2 L271.8 552.0 L274.9 553.3 L278.0 553.9 L279.9 552.4 L280.1 549.6 L282.1 548.1 L284.1 549.9 L284.5 552.8 L286.1 555.0 L287.9 557.6 M318.0 540.0 L319.0 542.4 L321.5 543.6 L322.3 546.1 L324.1 547.9 L325.8 549.5 L328.1 549.8 L329.8 551.5 L332.1 551.8 L333.0 554.2 L335.8 554.6 L336.6 557.0 L338.7 558.1 L339.9 560.1 M332.0 576.0 L333.6 574.2 L334.1 571.6 L336.2 570.1 L340.0 568.9 M63.3 295.4 L61.4 296.8 L61.5 299.5 L59.7 301.0 L60.4 303.8 L59.7 306.6 L61.2 308.7 L60.6 311.4 L62.1 313.5 L62.0 316.1 L63.6 318.2 L63.9 320.6 L65.3 322.8 L65.4 325.4 L67.0 327.5 L66.9 329.9 L68.9 331.6 L68.8 333.9 L70.1 330.3 L70.2 327.5 L68.6 324.9 L69.1 322.0 L68.0 319.8 L68.4 317.2 L67.4 315.0 L67.9 312.7 L67.6 310.3 L68.4 308.0 L69.7 305.3 L72.4 303.8 L74.4 301.6 L72.4 299.9 L69.5 299.8 L67.9 297.8 L65.3 297.7 L63.5 295.2 M60.5 304.5 L63.1 305.1 L65.8 304.1 L68.3 305.8 L71.0 305.1 M139.6 380.8 L140.8 382.7 L143.1 383.8 L143.5 386.3 L145.3 387.7 L146.6 390.1 L149.3 391.2 L150.7 393.5 L150.8 396.6 L150.0 399.7 L147.6 400.6 L144.9 399.7 L142.4 400.5 M93.2 295.2 L100.4 295.2 M98.0 287.2 L97.2 284.8 L98.0 281.6 L97.2 280.0 M98.8 346.4 L105.2 350.4 L107.6 344.0 M105.2 350.4 L106.8 353.6 M70.0 306.4 L74.0 301.6 M118.0 374.0 L121.2 375.6 L123.2 376.0 M118.0 370.0 L119.6 364.4 M121.2 370.0 L125.2 369.2 M104.4 360.4 L105.2 358.0 L107.6 354.8 M107.6 398.0 L110.8 401.2 L114.8 405.2 L118.8 408.4 L122.8 410.0 M86.0 358.8 L90.8 359.6 L94.0 362.0 L98.0 366.0 L102.0 369.2 L106.0 371.6 L110.0 374.8 L112.4 379.6 L114.0 384.4 L115.6 388.4 L118.8 392.4 L122.0 395.6 L124.4 399.6 L127.6 403.6 L130.8 406.0 M87.2 362.0 L90.8 362.8 L94.0 366.0 L92.4 368.4 M89.2 365.2 L94.0 368.4 L97.2 372.4 M114.8 382.0 L116.4 386.0 L119.6 388.4 M129.2 394.8 L129.2 399.6 L127.6 404.4 M110.8 405.2 L108.8 408.4 L109.2 413.2 L110.8 418.0 L109.6 422.0 L110.0 426.8 L110.8 430.0 M110.8 405.2 L114.8 407.6 L119.6 410.0 L124.4 410.8 L128.4 410.0 M126.0 425.2 L123.1 424.5 M123.1 424.5 L122.8 424.4 L121.2 426.8 L123.1 424.5 M123.1 424.5 L125.2 422.0 M142.0 405.0 L164.0 410.5 L190.0 416.5 M164.0 410.5 L165.4 413.1 L165.0 415.3 L163.4 417.0 L162.7 421.0 L164.9 424.1 L166.4 425.8 L166.8 428.1 L170.1 429.8 L172.3 431.3 L175.0 430.8 L177.9 434.1 L179.6 435.7 L179.9 438.0 L183.1 439.8 L183.7 444.1 L183.6 446.7 L181.8 448.9 L181.5 451.2 L179.9 452.9 L179.2 455.1 L177.9 456.9 M111.0 405.5 L109.4 407.5 L108.6 410.1 L108.2 412.4 L109.4 414.6 L108.7 417.0 L109.4 419.3 L109.0 421.7 L109.8 424.0 L109.3 427.0 L110.2 430.0 L108.3 431.7 L107.6 434.1 L107.6 437.0 L108.1 440.0 L106.8 442.9 L106.2 446.1 L105.1 448.3 L105.4 450.9 L103.8 453.0 L103.4 455.5 L101.7 457.5 L101.2 460.1 L99.5 461.8 L99.7 464.3 L97.9 465.9 L97.5 468.3 L95.9 469.9 M111.0 405.5 L112.9 406.7 L115.0 407.4 L117.4 408.8 L120.0 409.4 L124.0 410.2 L126.9 408.8 M138.0 432.0 L140.9 434.2 L140.5 436.3 L138.6 437.8 L138.1 440.1 L136.7 441.8 L136.3 444.1 L134.9 446.0 L133.5 448.2 L131.2 449.6 L130.2 452.2 L128.5 454.8 L128.2 458.1 L129.8 460.2 L129.6 462.7 L127.9 465.0 L127.7 467.8 L125.8 469.9 M118.0 447.0 L118.8 451.0 L121.4 451.3 L122.9 453.2 L125.5 452.6 L128.0 453.2 L130.0 451.9 M130.0 453.0 L132.1 454.6 L134.9 453.9 L137.0 455.6 L139.6 455.2 L142.0 456.1 L144.5 455.6 L147.0 456.6 L149.5 455.5 L152.0 456.2 L154.8 455.5 L157.3 457.2 L160.0 456.8 L162.3 457.5 L164.7 457.2 L167.0 457.7 L169.9 454.9 L172.6 455.6 L175.0 454.3 L175.8 456.8 L178.1 457.9 L179.8 460.2 M188.5 416.5 L186.0 426.0 L184.5 434.0 L183.0 440.0 L182.5 446.0 L181.5 450.0 M169.0 380.0 L170.5 382.9 L173.2 384.9 L173.5 387.8 L175.5 390.1 L175.9 393.0 L176.3 395.7 L174.8 398.0 L174.8 400.6 L173.7 402.9 L174.8 405.2 L174.3 407.7 L176.0 409.6 L175.8 412.0 L175.6 413.1 M167.0 457.5 L168.6 459.4 L171.1 459.9 L174.1 458.1 L177.0 458.9 L175.8 463.0 L173.1 465.1 L171.9 469.0 M181.5 450.0 L180.7 452.3 L180.7 454.7 L179.9 457.0 L181.3 459.4 L181.8 462.1 L181.3 464.2 L179.9 465.9 L181.8 467.6 L181.8 470.1 M90.0 500.0 L106.0 505.0 L132.0 512.5 L148.0 516.5 L166.0 520.5 L190.0 525.5 M173.0 485.5 L166.0 520.5 M130.0 471.0 L130.5 473.2 L132.1 475.0 L130.4 477.3 L130.1 480.0 L131.7 481.9 L134.0 483.0 L135.6 484.8 L138.1 484.9 L139.3 487.1 L141.1 489.0 L143.5 489.7 L146.0 489.8 L150.0 491.1 L151.8 489.2 L154.1 488.1 L157.1 488.2 L160.0 489.2 L162.1 487.5 L164.9 488.0 L167.0 486.4 L170.1 486.7 L173.0 485.3 L176.0 486.3 L177.3 488.9 L177.8 492.1 L180.6 493.8 L182.9 496.2 L185.0 498.2 L185.8 501.1 L188.2 501.5 L189.9 503.1 M173.0 485.5 L174.8 483.7 L175.4 481.1 L177.8 479.6 L178.0 476.7 L180.1 475.1 L178.7 473.2 L178.1 471.0 M124.0 470.0 L123.2 472.4 L123.2 475.0 L121.5 476.9 L120.5 479.1 L118.8 480.9 L118.3 484.1 L116.9 487.0 L116.3 490.1 L114.8 492.9 L114.6 495.8 L112.8 497.9 L111.5 499.8 L109.1 500.7 L108.1 503.1 L105.9 504.9 L105.2 509.1 L107.9 512.1 L109.2 514.9 L106.9 516.6 L106.1 519.1 L106.9 523.0 L106.7 525.5 L105.8 528.0 L106.8 530.3 L105.8 532.7 L106.6 535.0 L106.7 537.5 L108.4 539.5 L108.4 542.0 L109.7 544.5 L108.6 547.5 L110.1 550.0 L109.7 552.7 L111.2 555.3 L110.9 558.0 L111.7 561.0 L111.8 564.0 L113.4 566.9 L113.9 570.0 M132.0 512.5 L130.0 520.0 L128.0 528.0 L126.0 536.0 L124.0 544.0 L123.0 550.0 M123.0 550.0 L121.7 552.9 L121.1 556.0 L121.8 560.0 L123.9 561.7 L124.9 564.1 L126.5 565.8 L126.8 568.1 L128.2 569.9 M107.0 523.0 L104.5 522.1 L102.0 523.2 L99.2 523.6 L97.6 526.2 L94.9 526.9 L95.2 529.4 L93.8 531.6 L94.2 534.0 L92.6 536.9 L92.1 540.0 L90.6 541.8 L90.2 544.1 M107.0 524.0 L109.2 526.3 L112.1 527.9 L114.9 529.0 L118.0 528.7 L118.6 531.7 L120.2 533.9 L120.7 536.1 L122.8 537.6 L122.9 540.0 M95.5 470.0 L94.0 472.4 L93.1 475.1 L91.2 477.6 L90.1 480.5 M96.0 470.0 L94.7 471.8 L94.2 474.1 L92.4 475.7 L92.2 478.1 L90.6 479.8 L90.2 482.1 L89.3 484.6 L89.8 487.4 L88.8 490.0 L89.1 492.4 L87.5 494.4 L87.7 496.8 L86.9 499.0 L87.0 501.5 L84.7 503.2 L85.0 505.8 L83.8 507.9 L83.5 510.9 L81.2 513.0 L81.1 516.1 L79.4 518.2 L78.7 520.9 L76.8 522.9 L78.5 525.1 L77.8 527.8 L79.1 530.0 L79.1 532.8 L80.6 535.3 L80.8 538.1 L79.8 541.1 M190.0 416.4 L200.0 419.4 M198.0 418.0 L196.8 420.5 L196.9 423.4 L195.9 426.0 L197.8 428.2 L197.5 431.2 L199.5 433.3 L199.9 436.1 L201.2 438.0 L201.6 440.4 L203.2 442.3 M166.0 410.0 L164.6 412.5 L164.8 415.6 L162.8 417.9 L165.3 419.5 L165.6 422.6 L168.1 424.0 L168.6 426.5 L171.2 427.7 L171.9 430.0 L174.8 430.0 L177.1 432.1 L180.0 431.9 L181.1 434.3 L183.2 435.9 M173.0 394.0 L173.2 397.0 L175.4 399.2 L175.7 402.1 L175.4 404.2 L173.4 405.7 L173.7 408.3 L171.9 410.0 L169.0 410.5 L166.0 409.9 M497.2 556.0 L498.0 572.0 L498.8 586.4 L497.2 594.4 L494.0 604.0 L492.4 610.4 M465.2 540.0 L466.8 546.4 L462.0 551.2 M458.4 560.0 L458.8 560.8 L456.4 566.4 L452.4 571.2 L453.2 578.4 L458.0 584.0 L462.0 588.0 L468.4 592.0 L468.4 600.8 L473.2 605.6 L477.2 610.4 L479.6 616.8 M430.0 568.0 L449.2 567.2 L453.2 571.2 M430.0 599.2 L434.8 592.0 L439.6 588.8 L444.4 591.2 L447.6 594.4 L454.0 595.2 L456.4 601.6 L462.0 602.4 L467.6 604.0 L473.2 605.6 M499.6 588.0 L495.6 594.4 L487.6 600.8 L481.2 604.0 L478.0 602.4 L470.0 604.0 M479.6 616.8 L484.4 617.6 L490.8 615.2 L492.4 610.4 L495.6 605.6 L500.0 605.0 M500.0 575.3 L499.6 575.2 L498.0 572.0 M496.4 624.8 L500.0 624.5 M473.2 652.0 L490.0 650.9 M430.0 630.4 L471.6 628.8 M430.0 644.0 L439.6 644.8 L449.2 645.6 L455.6 647.2 M479.6 627.2 L478.0 634.4 L474.8 640.8 L473.2 647.2 L472.4 652.0 L474.8 658.4 L475.6 666.4 L474.8 676.0 L473.2 684.0 L470.0 690.4 L464.4 698.4 M471.6 628.8 L472.4 632.8 L469.2 636.0 L478.0 636.0 M476.4 616.8 L470.0 620.0 L466.0 626.4 L462.0 632.8 L458.8 639.2 L455.6 647.2 L450.0 652.0 L446.8 657.6 L449.2 664.8 L454.0 669.6 L457.2 676.0 L454.8 684.0 L454.8 690.4 L450.0 693.6 L450.8 700.0 M471.6 652.0 L468.4 660.0 L462.8 668.0 L460.4 676.0 L462.0 684.0 L464.4 693.6 L463.6 700.0 M430.0 684.8 L462.0 683.2 M490.8 618.4 L494.0 623.2 L496.4 629.6 L497.2 639.2 L497.4 640.0 M449.2 567.2 L447.1 560.0 M579.0 566.0 L592.0 563.9 M529.3 560.0 L530.0 580.0 L531.0 584.0 M531.0 584.0 L538.0 586.0 L546.0 588.0 L547.0 582.0 L552.0 574.0 L558.0 570.0 L560.0 562.0 L559.3 560.0 M576.4 560.0 L579.0 566.0 M560.0 589.0 L566.0 600.0 L570.0 606.0 L578.0 604.0 L586.0 600.0 L589.0 592.0 L592.0 584.0 M547.0 588.0 L554.0 588.0 L560.0 589.0 M579.0 566.0 L592.0 565.0 M592.0 610.0 L586.0 616.0 L580.0 624.0 M500.0 624.0 L532.0 622.0 L580.0 615.0 L592.0 612.8 M614.5 662.0 L610.0 668.0 L602.0 674.0 L596.0 680.0 M572.0 640.0 L580.0 638.0 L592.0 639.5 M500.0 604.0 L510.0 600.0 L516.0 592.0 L526.0 588.0 L532.0 584.0 M500.0 572.0 L510.0 576.0 L520.0 584.0 L526.0 578.0 L531.0 580.0 M532.0 622.0 L536.0 610.0 L542.0 600.0 L547.0 588.0 M546.0 640.0 L550.0 632.0 L560.0 624.0 L570.0 618.0 L580.0 615.0 M526.6 640.0 L530.0 632.0 L534.0 622.0 M563.6 640.0 L566.0 638.0 L572.0 630.0 L578.0 624.0 M572.0 630.0 L580.0 620.0 L586.0 616.0 M580.0 638.0 L588.0 628.0 L592.0 622.7 M552.0 560.0 L554.0 566.0 L560.0 568.0 L564.0 564.0 M388.4 441.2 L389.0 452.0 L390.8 464.0 L392.0 474.8 L393.8 482.0 L394.4 488.0 L392.0 491.6 L395.0 495.2 L395.0 522.8 M380.0 486.2 L393.8 486.2 M395.0 523.4 L430.4 522.8 L452.0 522.8 M405.2 449.6 L403.8 451.8 L404.2 454.4 L405.7 456.9 L408.4 458.4 L405.6 461.4 L402.9 464.1 L403.1 466.5 L404.3 468.7 L402.8 471.0 L403.0 473.6 L405.7 475.0 L407.5 472.9 L410.1 472.5 L411.5 474.6 L411.7 477.2 L413.1 480.1 L413.4 483.3 L416.6 483.3 L419.6 484.0 L422.7 484.4 L425.6 485.7 L428.0 485.0 L430.4 485.2 L434.0 485.4 L433.7 488.0 L434.2 490.4 M404.0 459.2 L400.9 460.1 L398.1 461.7 L396.7 464.5 L397.1 467.7 L396.7 470.7 L398.1 473.6 L397.8 476.1 L399.6 478.3 L399.0 480.8 L401.0 482.2 L402.0 484.4 L404.2 485.4 L404.0 488.1 L405.3 490.4 L406.3 492.8 L408.9 494.0 L409.9 496.5 L413.2 497.1 L415.9 498.9 L418.8 500.1 L420.6 502.6 L421.7 504.7 L421.7 507.3 L423.3 509.4 L423.1 512.0 L425.6 513.8 L427.8 512.8 L429.1 510.6 L430.6 507.3 L431.2 504.6 L433.0 502.5 L435.1 501.1 M419.6 444.8 L422.3 446.0 L425.2 445.3 L428.0 446.1 L430.9 445.1 L434.0 445.6 L436.3 447.0 L437.5 449.7 L440.1 449.9 L442.3 451.0 L444.9 451.5 L447.2 452.7 L449.4 451.1 L452.1 450.9 L454.5 450.4 L456.8 451.5 L459.2 451.5 L461.6 452.2 M440.0 473.6 L447.2 466.4 L456.8 458.0 L461.6 454.6 M440.0 473.6 L439.5 476.4 L440.3 479.2 L439.3 482.0 L438.9 485.6 L435.2 486.7 M442.4 473.0 L445.5 473.0 L448.4 471.6 L451.2 471.4 L453.2 469.3 L456.8 469.0 L454.5 471.9 L454.9 474.8 L457.8 474.4 L460.4 475.6 M435.2 486.8 L433.8 490.3 L435.9 493.9 L434.7 496.9 L434.7 500.0 L433.3 502.3 L436.3 500.4 L439.4 501.4 L438.9 503.6 L436.4 504.1 L437.7 507.2 L439.9 508.5 L442.6 509.2 L444.7 511.0 L448.4 513.1 L449.6 515.6 L452.2 516.6 L452.1 519.8 L452.8 522.8 L453.0 526.4 L454.1 528.7 L454.2 531.2 L456.7 532.5 L457.9 534.9 L460.2 536.2 L461.5 538.5 M435.2 486.8 L438.8 488.1 L442.4 488.5 L445.5 488.3 L447.3 491.5 L449.5 495.2 L452.2 498.7 L454.5 498.5 L456.8 497.5 L459.4 496.8 L461.6 495.1 M438.8 507.2 L439.0 509.7 L440.1 512.0 L440.4 515.0 L441.3 518.0 L442.5 520.7 L444.9 522.7 L444.7 525.3 L445.6 527.6 L445.6 530.3 L447.3 532.4 L449.3 534.3 L452.1 534.6 L454.1 536.5 L456.9 537.0 L459.1 538.6 L461.6 539.5 M412.4 529.4 L410.0 531.2 L410.0 533.8 L408.5 535.9 L409.6 539.0 L409.8 542.0 L411.9 543.3 L412.9 545.5 L414.9 546.7 L416.7 549.2 L419.7 550.3 L422.6 551.1 L425.6 550.2 L428.3 549.7 L430.4 548.0 L431.9 545.2 L432.1 542.0 L432.3 539.0 L431.4 536.0 L431.2 533.0 L430.2 530.0 L431.2 527.6 L429.5 525.2 L430.5 522.8 M395.0 522.8 L396.7 521.1 L397.9 519.1 L400.2 521.8 L402.9 522.7 L406.3 525.3 L408.7 526.2 L410.2 528.2 L412.5 529.2 M392.0 513.2 L390.3 515.4 L389.7 518.0 L389.7 520.5 L391.0 522.8 L394.3 524.2 L395.0 526.4 L394.8 528.8 L394.6 531.1 L392.4 532.5 L392.2 534.9 L392.4 537.3 L393.4 539.5 L394.0 542.7 L395.7 545.5 L395.6 548.3 L397.9 550.2 L397.8 552.9 L399.0 555.1 L399.3 557.7 L400.5 560.0 M380.0 533.6 L383.1 533.3 L385.9 532.1 L387.3 534.7 L389.7 535.9 L392.0 536.1 M380.0 550.4 L382.6 549.7 L384.7 547.8 L388.5 545.7 L388.8 542.3 L390.9 539.6 M387.2 560.0 L388.5 557.3 L387.6 554.3 L388.5 551.6 L388.5 548.9 L390.4 546.9 L390.8 544.3 L392.1 542.1 M456.8 554.0 L456.6 557.2 L458.1 560.0 M490.0 650.5 L499.0 650.0 L530.0 647.5 L559.0 644.8 M544.0 644.5 L544.5 641.5 L547.0 641.0 L547.0 640.0 M559.0 644.8 L566.0 642.0 L570.0 640.0 M497.5 650.5 L498.0 675.0 L498.5 712.0 M530.0 647.5 L534.0 664.0 L536.0 673.0 L541.5 683.5 M541.5 683.5 L541.1 686.7 L541.2 690.0 L540.6 693.1 L542.1 696.0 L541.1 698.9 L541.6 702.0 L542.4 704.7 L544.1 706.9 L545.3 711.1 M497.0 640.0 L497.4 644.0 L499.6 645.4 L500.8 647.7 L499.1 651.1 L499.9 654.0 L501.9 655.7 L502.9 658.1 L505.1 658.8 L503.8 663.0 L505.5 665.1 L504.9 667.8 L506.2 670.0 L507.7 672.7 L510.1 675.0 L511.2 677.7 L513.1 680.0 L515.8 679.7 L517.9 677.9 L519.6 680.4 L522.1 681.9 L523.7 683.5 L526.1 683.8 L530.0 684.3 L532.5 683.8 L535.0 684.2 L538.2 683.1 L541.5 683.7 M505.0 659.0 L507.6 659.3 L510.0 658.4 L512.7 658.3 L514.9 656.8 L517.4 655.4 L518.9 652.9 L520.2 649.1 L522.9 645.9 L525.2 643.1 L523.8 640.1 M534.0 664.0 L532.4 665.8 L532.1 668.5 L529.8 669.9 L529.5 672.7 L527.9 675.0 L525.7 676.5 L522.9 676.8 L520.7 678.3 L518.0 677.8 M534.0 664.0 L536.2 663.5 L537.6 661.2 L540.0 661.1 L541.4 658.7 L544.2 657.8 L545.8 655.8 L548.4 654.8 L549.8 652.5 L552.1 651.2 L553.8 649.5 L556.2 649.1 L557.9 647.3 L559.2 644.9 M541.5 683.5 L544.0 683.5 L545.7 681.4 L548.0 681.1 L550.0 679.2 L552.8 679.2 L555.0 677.9 L557.6 676.7 L559.2 674.0 L562.1 673.1 L563.6 671.3 L565.6 670.1 L567.0 668.2 L569.2 667.2 L571.1 665.3 L573.8 664.6 L576.0 662.9 M559.0 644.8 L559.8 647.8 L562.1 650.0 L563.9 652.1 L566.3 653.7 L567.9 656.1 L570.1 657.6 L571.7 659.8 L574.2 661.1 L575.9 663.1 L578.2 664.8 L579.6 667.4 L582.1 668.9 L582.8 671.4 L585.0 672.8 L585.9 675.1 L588.2 676.8 L589.9 679.1 M576.0 663.0 L578.3 661.0 L578.9 657.9 L581.3 657.2 L582.5 654.6 L585.1 654.1 L587.4 651.8 L590.1 650.1 M515.0 709.5 L544.0 707.0 M545.5 711.0 L580.0 709.0 L581.0 712.0 M590.0 692.0 L588.8 694.9 L588.6 698.0 L588.3 701.0 L589.1 704.0 L589.8 706.1 M580.0 709.0 L580.5 706.0 L583.5 705.0 L590.0 705.0 M652.3 550.0 L652.7 552.0 L651.0 554.1 L651.0 556.7 L649.8 558.9 L649.0 561.4 L646.9 562.9 L646.2 565.9 L644.0 568.0 L645.3 569.9 L645.9 572.1 L646.4 574.7 L645.4 577.3 L645.8 580.0 L644.4 583.0 M590.0 565.0 L615.0 560.5 L617.3 560.0 M620.0 559.4 L622.0 559.0 M615.0 560.5 L614.2 563.7 L614.3 567.0 L616.0 568.7 L618.9 568.5 L621.0 570.1 L622.2 574.0 L620.3 576.8 L620.2 580.1 L622.3 581.5 L625.1 581.9 L627.2 583.1 L629.9 582.6 L631.9 584.2 L633.6 585.7 L633.5 588.3 L635.2 589.9 L635.1 593.1 L636.1 596.0 L634.3 597.7 L634.2 600.1 M622.0 596.0 L621.6 598.3 L622.7 600.5 L622.1 602.8 L623.1 605.0 L621.8 607.4 L622.0 610.2 L620.4 612.4 L620.1 615.0 L617.8 617.1 L617.2 620.1 M590.0 614.5 L623.0 608.0 L638.0 605.0 M590.0 592.0 L591.1 589.5 L590.8 586.5 L592.1 584.0 L596.0 583.7 L598.2 582.1 L598.9 579.0 L601.1 577.1 L602.0 574.9 L603.7 573.1 L604.4 570.8 L606.1 569.1 L605.1 566.6 L605.1 564.0 M590.0 610.0 L591.5 607.9 L591.4 605.1 L593.1 603.1 L594.0 600.9 L596.3 599.8 L596.8 597.2 L599.1 596.1 L600.5 593.9 L602.5 592.1 L603.9 589.9 L605.5 588.0 L605.5 585.3 L607.2 583.4 L607.9 580.9 L609.8 579.1 L609.4 576.2 L611.6 574.5 L611.9 571.9 L613.3 569.6 L613.9 567.0 M590.0 565.0 L590.8 567.4 L592.7 569.4 L592.9 572.0 L594.2 569.5 L596.9 568.4 L597.7 565.5 L600.1 564.1 L602.5 563.4 L605.0 564.1 M625.8 647.8 L621.6 650.6 L616.0 653.4 L613.2 659.0 L611.8 664.6 L607.6 670.2 L602.0 674.4 L596.4 677.2 L593.6 680.0 M588.0 613.5 L623.0 608.6 L644.0 604.4 M586.6 637.3 L587.8 639.2 L589.6 640.7 L592.2 641.5 L595.0 640.6 L597.9 640.4 L600.5 639.2 L602.2 641.1 L604.8 641.6 L606.1 643.7 L608.8 644.5 L610.5 646.9 L613.2 647.7 L614.7 649.5 L617.3 649.6 L618.7 651.4 M623.0 608.6 L621.7 610.8 L622.0 613.6 L620.0 615.5 L619.3 617.8 L617.1 619.1 L616.2 621.3 L613.9 622.1 L613.0 624.7 L610.6 625.2 L609.1 626.9 L606.6 627.8 L605.0 629.9 L602.5 630.7 L600.7 632.6 L598.5 634.8 L598.0 638.1 L595.0 640.8 M595.0 640.8 L593.6 642.7 L593.5 645.3 L591.6 647.0 L590.9 649.2 L589.2 650.4 M560.0 631.0 L562.1 629.2 L562.9 626.3 L565.7 625.1 L566.8 622.4 L569.5 622.0 L571.5 620.3 L574.0 619.9 L576.1 618.2 L578.8 617.7 L580.9 616.1 L583.7 616.2 L585.5 614.1 L588.1 613.6 M571.2 636.6 L573.3 634.1 L573.8 630.9 L572.7 628.2 L574.1 626.5 L576.6 626.0 L577.6 623.7 L579.6 622.7 L581.4 620.8 L583.9 620.0 M663.6 430.0 L660.0 434.8 L655.2 439.0 L651.6 440.8 M630.0 473.2 L627.8 474.2 L628.1 477.7 L625.1 477.9 L624.7 480.9 L620.6 480.8 L620.7 484.2 L620.0 484.5 M620.0 466.0 L620.8 465.5 L624.1 465.6 L626.9 464.4 L630.0 464.9 M631.2 469.6 L633.3 471.4 L636.0 471.9 L638.4 472.6 L640.8 471.9 L641.9 475.6 L643.7 477.8 L644.3 480.4 L644.9 482.8 L644.0 485.3 L645.3 487.6 M630.0 473.8 L636.0 472.6 L640.8 472.0 L648.0 470.2 L656.4 468.4 L662.4 462.4 M652.8 442.0 L653.5 445.2 L655.4 447.9 L653.9 450.7 L654.2 453.8 L652.7 456.4 L652.4 459.7 L650.3 462.4 L649.8 464.9 L648.6 467.1 L648.2 469.7 M672.0 430.0 L671.4 432.4 L672.0 434.9 L670.7 437.2 L671.1 439.7 L669.4 441.9 L669.8 444.4 L669.9 447.5 L671.0 450.4 L669.7 452.7 L670.0 455.5 L668.3 457.6 L667.1 459.9 L664.6 461.0 L662.5 462.6 L661.0 465.9 L662.5 468.2 L662.3 470.8 L662.6 473.2 L662.3 475.6 L660.1 478.1 M665.4 461.8 L676.8 493.6 M660.0 478.0 L658.8 480.9 L659.0 484.0 L658.3 486.8 L659.1 489.6 L658.6 492.4 L659.6 494.8 L658.7 497.2 L659.8 499.6 L659.3 502.0 M679.2 482.8 L678.4 485.2 L678.1 487.6 L677.0 490.5 L677.0 493.6 L676.6 496.2 L678.1 498.4 L679.0 502.1 L681.0 504.1 L681.4 506.9 L682.9 510.4 M692.4 430.0 L692.7 432.6 L694.3 434.7 L694.7 437.2 L696.1 439.4 L695.9 442.2 L697.3 444.4 L699.3 446.1 L702.0 446.7 L703.2 448.8 L705.6 449.6 L706.7 451.7 M676.8 493.6 L674.6 492.0 L671.9 491.4 L668.4 492.3 L668.7 495.5 L667.6 498.4 L668.5 502.0 L665.9 503.0 M651.6 503.8 L660.0 502.6 L668.4 502.0 M659.4 502.0 L659.1 504.4 L659.6 506.8 L661.7 508.1 M651.6 516.4 L657.6 514.0 L664.8 512.8 L672.0 511.6 L674.4 511.6 M672.0 511.6 L672.6 518.8 L673.2 521.2 M682.8 510.4 L686.5 508.1 L689.9 506.6 L691.7 510.5 L690.2 514.1 L686.3 516.3 L684.1 518.9 L683.0 516.3 L679.2 515.4 L676.8 516.3 L675.4 514.1 L674.6 511.5 M651.6 535.6 L654.1 534.0 L656.3 531.8 L658.8 531.4 L660.1 529.0 L662.5 528.5 L664.0 526.5 L666.6 526.3 L668.3 524.6 L671.1 523.4 L673.1 521.1 L676.9 519.0 L679.1 516.3 M650.4 538.0 L653.1 537.4 L655.1 535.4 L655.4 535.4 M655.4 535.4 L658.3 535.8 L658.5 535.2 M658.5 535.2 L659.8 532.8 L660.3 532.9 M660.3 532.9 L662.5 533.3 L662.5 532.4 M662.5 532.4 L662.2 529.4 L665.0 529.8 L666.5 527.1 L668.9 527.5 M668.9 527.5 L669.9 527.7 L671.9 525.9 L668.9 526.5 L668.9 527.5 M668.9 527.5 L668.8 530.0 L665.4 529.5 L663.8 532.4 L662.5 532.4 M662.5 532.4 L660.5 532.4 L660.3 532.9 M660.3 532.9 L659.0 535.3 L658.5 535.2 M658.5 535.2 L655.5 535.1 L655.4 535.4 M655.4 535.4 L654.1 538.2 L650.3 539.0 M648.0 492.4 L648.2 494.9 L649.4 497.1 L649.8 499.7 L651.1 502.0 L649.9 504.9 L650.5 508.0 L650.1 511.1 L651.2 514.0 L651.1 517.1 L652.5 519.9 L651.5 523.0 L652.4 526.0 L651.5 529.0 L651.7 532.0 L651.0 535.0 L651.1 538.0 M651.6 503.8 L651.6 516.4 L652.8 521.2 L652.2 526.0 M651.0 538.0 L652.0 541.7 L653.0 544.4 L651.8 547.2 L652.3 550.0 M620.0 523.4 L621.7 523.9 L623.9 522.1 L626.5 522.7 L628.8 521.7 L631.7 523.1 L634.9 523.4 L637.0 527.3 L640.9 529.4 L643.1 530.6 L645.8 530.7 L647.9 532.2 M620.0 499.6 L621.1 499.6 L624.0 498.2 L626.2 500.1 L629.0 500.3 L631.1 502.1 L634.2 501.3 L637.2 502.1 L639.4 500.4 L642.0 499.7 L643.6 497.1 L645.7 494.8 L646.3 492.2 L648.2 490.1 M620.0 511.3 L621.7 510.6 L624.0 509.1 L626.4 509.0 L628.7 507.9 L631.2 508.1 L633.6 507.8 L636.0 508.2 L638.4 507.8 L641.3 508.9 L644.4 509.0 L644.8 511.7 L645.7 514.0 L644.1 516.2 L643.3 518.9 L644.3 520.9 L647.0 521.4 L647.9 523.7 L650.2 521.0 M639.6 529.6 L637.9 532.4 L637.3 535.6 L637.5 538.1 L638.5 540.4 L636.2 542.5 L635.0 545.4 L632.4 545.7 L630.9 547.8 L628.8 548.7 L625.2 550.1 M648.0 532.0 L646.3 534.2 L645.7 536.9 L643.4 538.2 L642.2 540.6 L640.6 542.7 L639.8 545.3 L637.4 547.3 L636.2 550.1 M630.0 473.2 L628.0 475.2 L628.1 478.3 L626.2 480.3 L626.4 483.5 L624.9 486.3 L626.0 489.4 L625.6 492.4 L628.6 494.2 L629.9 497.3 M500.0 443.6 L500.9 446.1 L502.6 448.3 L504.7 449.6 L507.3 450.0 L509.7 450.2 L512.0 448.9 L514.3 450.9 L515.7 454.4 L517.9 458.1 L519.3 460.2 L519.1 462.8 L521.7 465.1 L522.1 468.8 M514.4 450.8 L517.0 450.0 L519.1 448.2 L521.7 448.6 L524.0 447.6 L526.0 445.8 L527.5 443.5 L528.9 440.0 M522.2 468.8 L519.2 469.9 L516.5 469.9 L514.5 468.0 L512.1 469.4 L509.6 469.3 L507.3 470.4 L504.8 469.8 L502.8 472.2 L500.0 472.9 M500.0 482.0 L503.7 479.7 L507.1 478.2 L509.7 478.1 L512.0 477.1 L514.8 478.6 L518.0 478.3 L520.3 479.8 M528.8 476.0 L530.5 477.1 L532.8 474.4 L533.8 479.1 L536.1 476.5 L537.6 479.7 L539.7 476.4 L541.3 478.7 L543.2 477.6 L545.4 479.2 L548.2 478.4 L550.2 480.7 L552.8 479.4 M552.8 473.0 L555.3 473.3 L557.6 472.2 L559.9 473.5 L562.4 473.5 L563.3 476.4 L565.5 478.4 L568.3 480.9 L570.4 483.0 L571.8 485.8 L573.3 487.9 M552.8 481.4 L554.3 483.8 L556.6 485.5 L558.6 489.3 L562.5 491.4 L566.0 490.5 L568.6 491.1 L570.8 492.9 L571.4 490.1 L573.3 488.1 L576.2 488.4 L579.2 489.4 L581.5 488.3 L584.1 488.9 L586.4 487.7 L588.7 488.7 L591.2 488.4 L593.7 489.0 L596.0 487.9 L598.8 489.5 L602.0 489.1 L605.1 489.3 L607.9 487.7 L611.7 485.7 L611.5 483.0 L613.0 480.8 M558.8 491.6 L557.6 493.9 L557.8 496.4 L556.5 499.3 L556.6 502.4 L556.1 504.8 L557.5 507.1 L556.9 509.6 L557.2 512.1 L556.3 514.4 L554.1 518.0 L551.6 520.4 M520.4 479.6 L523.3 482.2 L525.8 482.7 L527.5 484.5 L530.2 484.2 L532.4 485.8 L536.1 487.9 L537.1 491.6 L538.0 494.6 L538.2 497.6 L538.0 500.1 L537.1 502.4 L536.3 505.0 L534.7 507.2 L534.4 509.8 L532.9 512.0 L535.4 512.5 L537.3 510.5 L538.4 507.7 L540.9 506.1 L543.2 505.4 L545.6 506.1 L547.2 508.2 L547.9 510.8 L549.0 513.1 L548.6 515.8 L550.1 517.9 L551.5 520.5 L551.7 523.5 L550.2 526.4 L552.4 528.6 L549.7 529.9 L547.3 529.0 L548.1 525.2 L550.5 526.3 M548.0 530.0 L546.1 533.5 L544.5 537.2 L541.9 540.8 M504.8 498.8 L504.9 501.9 L506.1 504.8 L504.6 507.0 L504.4 509.7 L504.8 512.1 L506.2 514.3 L505.9 516.9 L507.6 519.1 L507.1 521.6 L509.0 524.3 L508.9 527.6 L509.0 530.6 L508.3 533.6 L508.0 536.0 L507.0 538.4 M504.2 509.6 L507.1 509.7 L509.6 508.3 L512.1 507.8 L514.4 506.5 L518.0 508.5 L520.0 510.6 L524.0 509.7 L526.7 508.7 L529.7 509.3 L532.4 508.2 L533.5 512.0 M507.2 491.6 L508.8 494.2 L511.8 492.3 L511.9 495.4 L513.5 497.5 L510.9 496.2 M542.0 540.8 L544.2 539.0 L545.4 536.2 L548.1 534.9 L549.9 532.3 L552.9 531.4 L554.9 529.4 L557.7 529.0 L559.6 526.2 L562.6 524.8 L564.7 523.4 L567.3 522.9 L569.5 521.5 L572.1 522.8 L574.4 521.4 L578.1 519.3 L580.9 517.8 L584.1 517.0 L586.3 515.3 L588.9 514.6 M525.8 552.8 L528.3 552.3 L529.9 550.3 L533.2 550.2 L536.0 548.5 L538.1 547.9 L539.6 545.8 L542.1 545.8 L544.9 544.7 L548.0 544.6 L550.3 543.6 L552.8 543.4 L555.0 541.1 L557.7 539.8 L559.5 537.1 L562.5 536.1 L564.7 534.8 L567.2 534.3 L569.3 532.5 L572.1 532.6 L574.0 530.0 L577.0 529.0 L578.2 527.0 L580.3 525.9 L581.4 523.8 L583.6 522.8 L584.2 520.2 L586.5 519.3 L587.2 516.6 L589.5 515.1 L588.7 514.5 M576.8 505.4 L579.4 504.3 L581.5 502.2 L584.4 501.9 L586.2 499.6 L588.8 498.9 L591.0 497.4 L593.8 497.9 L595.9 496.2 L599.1 495.4 L601.9 493.8 L605.2 494.3 L608.0 492.7 L610.8 492.3 L612.7 490.3 M576.8 505.4 L577.9 509.0 L579.4 510.7 L581.4 512.1 L584.0 511.9 L586.8 511.6 L588.8 509.5 L592.0 508.9 L594.8 507.1 L597.3 507.2 L599.5 505.6 L602.0 505.5 L604.9 504.4 L608.0 505.0 L609.6 502.7 L612.4 502.1 L613.9 499.9 L615.7 497.9 L616.3 495.1 L615.0 492.5 L612.7 490.5 M588.8 514.4 L589.5 512.0 L588.6 509.7 M602.0 466.4 L604.3 470.1 L608.1 472.3 L609.3 474.7 L611.8 475.8 L611.4 478.6 L612.9 480.8 M569.6 440.0 L569.9 443.1 L571.0 446.0 L571.4 449.2 L573.4 451.9 L574.5 454.3 L576.8 455.7 L577.9 458.0 L580.0 459.2 L580.7 461.7 L582.8 462.8 L585.1 463.7 L587.7 463.3 L590.0 464.1 L593.1 464.1 L596.0 465.3 L599.2 464.9 L602.0 466.6 M589.4 515.0 L591.5 515.8 L594.0 515.6 L595.9 517.0 L599.5 514.2 L601.8 516.1 L604.5 516.6 L608.1 515.8 L611.7 517.9 L615.2 516.9 L617.8 516.6 L620.0 518.1 M591.2 528.8 L620.0 523.4 M575.8 534.8 L576.3 560.0 M584.0 532.4 L583.2 534.7 L583.7 537.3 L582.5 539.6 L582.5 541.9 L580.4 543.6 L580.5 546.1 L579.1 547.9 L579.2 550.4 L577.9 552.7 L578.9 555.2 L577.5 557.5 L578.2 560.0 M525.8 552.8 L525.3 555.3 L526.9 557.5 L526.2 560.0 M528.8 560.0 L530.8 558.0 L531.1 555.1 L533.7 554.9 L536.0 553.8 L538.0 552.4 L539.4 550.2 L541.0 548.1 L541.8 545.5 M548.0 544.4 L550.2 548.1 L552.7 545.5 M552.8 560.0 L554.2 557.1 L555.0 553.9 L557.1 551.3 L557.5 548.0 L559.3 545.9 L559.9 543.1 M557.6 560.0 L560.2 556.5 L562.4 555.6 L564.8 555.3 L567.0 553.7 L569.8 553.2 L571.9 551.5 L574.1 550.1 L575.4 547.8 M500.0 545.6 L525.8 543.2 M525.8 543.2 L527.5 545.7 L527.7 548.2 L525.6 550.2 L525.9 552.8 M500.0 507.2 L500.6 509.9 L502.5 511.9 L504.9 511.8 L507.1 510.6 L510.0 510.3 L512.0 508.3 L514.7 510.4 L518.1 510.7 L520.0 509.2 L521.5 507.1 L524.1 503.7 L526.5 504.5 L528.5 506.6 L531.3 507.0 M548.0 520.4 L546.2 523.2 L545.8 526.5 L547.4 528.8 M602.0 489.2 L604.3 492.9 L602.0 494.0 M551.0 390.0 L551.8 393.1 L554.7 393.0 L557.2 394.4 L560.0 393.8 L561.3 392.1 L561.8 389.9 L561.2 385.9 L563.4 386.2 L564.9 388.2 M560.0 394.0 L560.7 396.8 L562.5 399.1 L562.9 402.0 L564.4 404.9 L563.9 408.0 L565.7 406.2 L568.1 405.1 L569.0 402.8 L570.9 401.2 L571.8 398.9 L574.1 397.5 L575.8 395.4 L578.1 394.1 L578.9 391.7 L581.0 390.2 L581.8 387.9 L581.6 385.7 L579.9 384.1 L580.1 387.1 L581.1 390.0 M440.0 422.0 L441.9 423.5 L444.3 424.3 L445.9 426.1 L447.5 427.8 L447.7 430.1 L449.3 431.9 L449.8 434.1 L452.6 435.4 L453.6 438.4 L456.0 440.0 L457.7 441.5 L460.1 441.7 L461.7 443.7 L464.1 443.9 L467.1 444.1 L470.0 442.9 M504.0 510.0 L505.8 508.4 L505.9 505.9 L506.9 503.1 L506.3 500.0 L507.0 497.5 L506.9 495.0 L509.1 492.1 L509.8 488.0 L508.0 487.9 L509.8 485.8 L512.1 484.1 L510.8 481.1 M522.0 480.0 L519.6 481.3 L520.2 484.1 L517.6 485.6 L516.4 488.4 L513.4 489.2 L514.3 492.2 L512.4 494.7 L514.8 497.0 L515.4 494.3 L512.1 493.3 L512.5 490.8 L512.9 493.1 L509.8 494.8 L511.7 497.0 M508.0 493.0 L506.8 495.9 M519.0 470.0 L519.5 472.7 L521.2 474.9 L519.5 477.9 L522.5 479.9" fill="none" stroke="#595959" stroke-width="1" stroke-linejoin="round" shape-rendering="crispEdges"/>
<path d="M627.0 259.0 L623.0 267.0 M104.5 644.0 L105.5 644.0 M258.5 487.5 L262.5 483.5 M392.0 404.5 L394.0 408.5 M470.0 455.0 L476.0 450.0 M578.4 749.4 L582.0 751.2 L580.8 753.0 M588.0 763.2 L591.0 769.2 M107.6 280.0 L109.2 284.0 L111.6 281.6 M107.5 434.0 L112.0 432.0 M593.6 680.0 L597.8 676.5" fill="none" stroke="#595959" stroke-width="2.2" stroke-linejoin="round" shape-rendering="crispEdges"/>
<path d="M661.0 231.6 L660.5 234.6 L664.8 233.8 L663.1 237.7 L666.2 237.9 L665.8 240.6 L670.1 241.0 L668.7 244.1 L672.0 243.7 L670.8 247.0 L676.1 245.6 L673.1 249.7 L676.5 249.7 L678.0 252.0 L680.0 249.8 L680.0 252.5 L683.9 253.1 L682.6 256.2 L684.9 252.6 L688.1 255.7 L691.0 255.6 L687.3 260.0 L692.2 259.6 L691.6 262.2 L694.0 260.5 L696.0 263.0 L699.3 262.6 L695.3 266.4 L700.9 266.1 L698.7 269.1 L702.0 268.7 L700.7 271.3 L705.6 271.8 L702.1 274.6 L704.3 275.9 M700.0 274.0 L701.1 275.9 L704.3 273.7 L703.4 279.7 L707.7 275.3 L707.6 279.5 L710.4 278.2 L711.2 281.6 L715.2 278.6 L715.3 283.4 L718.4 282.1 L717.8 285.3 L721.0 286.5 L718.9 289.4 L721.4 286.6 L724.4 286.5 L726.3 286.3 L725.2 290.1 L728.6 289.4 L732.3 290.7 L727.7 284.3 L732.4 285.3 L735.0 282.6 L735.3 288.5 L738.1 286.7 L741.0 286.8 L741.7 283.6 L743.3 286.6 L747.3 281.5 L747.7 287.0 L751.0 285.7 M748.0 291.0 L749.1 294.5 L752.4 291.0 L753.9 293.3 L756.3 291.4 L757.4 297.0 L760.1 293.7 L762.0 296.2 L764.0 291.8 L766.0 294.4 L768.8 294.5 L768.2 298.4 L771.6 298.4 L769.5 301.7 L775.0 301.4 L770.8 305.3 L774.4 305.8 L772.4 309.2 L777.9 307.7 L775.0 311.8 L778.4 311.8 M775.0 311.0 L778.0 311.0 L777.5 313.0 M96.5 629.5 L100.0 631.0 L104.0 632.0 L107.5 633.0 M117.0 644.0 L120.0 647.0 M115.5 650.5 L117.0 654.5 M500.0 484.0 L496.0 488.0 L493.0 494.0 L490.0 503.0 L487.0 504.5 M500.0 487.7 L498.0 490.0 L495.0 496.0 L492.0 501.0 M430.0 727.0 L428.0 728.0 L428.3 731.3 L423.9 729.9 L424.4 733.4 L421.5 733.5 L423.1 738.1 L417.7 735.7 L418.2 739.2 L415.3 738.8 L416.1 742.8 L412.4 741.4 L412.3 744.4 L409.4 743.9 L409.8 747.5 L406.7 746.8 L406.3 749.4 L403.4 747.8 L402.6 752.3 L399.8 750.3 L399.0 753.8 L395.5 753.4 L395.7 757.8 L391.7 756.6 L391.2 760.1 L387.6 759.5 L387.8 763.0 L384.8 763.8 L385.2 766.4 L382.5 767.0 L382.5 769.3 L378.8 770.6 L380.6 774.3 L377.7 775.7 L380.4 778.2 L378.5 779.9 M450.8 733.6 L452.6 736.5 L455.8 733.9 L456.4 738.5 L459.9 734.0 L460.5 738.0 L463.1 736.3 L462.1 741.5 L466.9 740.3 L468.4 742.8 L471.3 741.5 L473.7 744.2 L474.7 738.6 L477.3 741.4 L478.0 736.9 L482.2 741.7 L483.0 737.9 L484.4 742.0 L488.1 740.6 L489.0 743.8 L491.7 741.6 L493.6 740.0 L489.5 739.3 L489.4 735.8 M471.2 730.0 L471.9 732.4 L475.1 731.5 L475.8 733.9 L476.7 731.3 L480.4 732.8 L480.5 729.6 L483.6 729.6 L485.4 727.1 L487.8 725.7 L487.7 722.6 M473.6 727.6 L476.3 728.6 L476.6 723.4 L479.9 725.9 L482.5 725.5 L481.7 729.5 L484.8 729.6 L480.6 731.1 L482.2 734.9 L479.7 733.5 L478.2 736.8 L475.9 735.7 M494.6 727.6 L495.2 730.0 M594.6 798.6 L600.0 797.4 L604.8 795.0 L610.8 792.0 L616.8 786.0 M462.0 456.2 L470.0 449.0 L478.0 440.0 L482.0 437.0 M471.0 454.0 L477.0 450.0 M479.0 465.0 L485.0 460.0 M660.0 414.8 L664.2 416.2 L667.0 417.6 L665.6 426.0 L664.0 430.0 M83.2 357.6 L88.4 359.2 L94.0 358.8 M83.2 357.6 L85.7 359.4 L87.7 361.8 L86.5 364.6 L89.9 364.8 L86.2 366.9 L88.1 370.2 L90.6 371.5 L92.7 371.9 L93.0 374.2 L96.4 374.8 L95.4 378.1 L97.6 379.5 L97.7 382.2 L99.4 383.8 L99.3 386.1 L102.9 386.6 L102.2 390.4 L105.0 390.8 L104.8 393.5 L107.7 395.5 L110.4 396.4 M110.4 396.4 L110.5 396.4 L110.5 396.3 M110.5 396.3 L111.5 393.3 L113.8 392.7 L112.9 395.8 L110.5 396.3 M110.5 396.3 L110.4 396.4 M110.4 396.4 L108.9 396.7 L107.8 398.3 M119.6 385.2 L124.4 382.0 L127.6 381.2 L126.0 385.2 L127.6 389.2 L124.4 388.4 L121.2 390.0 M129.2 390.0 L131.6 386.0 L130.8 391.6 L129.2 394.8 L131.6 398.0 L135.6 394.8 L138.0 398.0 L142.0 393.2 L141.2 398.8 M121.0 543.0 L124.0 547.0 L123.0 550.0 M479.6 616.8 L482.8 620.0 L483.6 626.4 L479.6 627.2 M380.0 440.4 L410.0 440.4 M641.0 550.0 L634.0 557.0 L628.0 562.0 L625.0 564.0 M620.0 580.0 L618.6 581.9 L622.4 584.4 L618.3 585.9 L619.2 588.0 L618.7 590.4 L621.2 591.7 L619.2 594.8 L622.2 595.9 L623.7 597.8 L626.3 595.1 L627.9 597.7 L630.8 595.3 L631.6 599.4 L634.1 598.8 L635.6 600.9 L638.1 600.7 L638.4 603.3 L641.8 602.5 L641.6 605.4 L644.3 605.9 L642.9 609.0 L645.4 609.8 L645.4 612.4 L649.6 611.8 L648.8 615.1 L651.5 616.9 L650.2 620.3 M621.0 574.0 L620.5 576.4 L623.3 577.7 L622.2 580.3 L625.5 579.8 L625.1 584.5 L629.2 581.3 L629.8 584.3 L633.4 583.9 L630.6 588.0 L633.6 588.1 L633.3 590.5 L635.9 591.7 L632.2 594.4 L635.4 595.9 M627.0 565.0 L628.0 572.0 L630.0 576.0 M633.0 563.0 L634.0 573.0 L637.0 580.0 L639.0 583.0 M636.0 558.0 L639.0 566.0 L644.0 570.0 M634.0 611.0 L638.0 615.0 L644.0 610.0 L646.0 616.0 M632.0 598.0 L634.0 603.0 L638.0 600.0 M641.0 594.0 L641.2 596.0 M642.8 588.5 L643.0 590.0 M644.0 607.2 L644.8 609.4 L648.7 609.2 L646.9 613.5 L650.2 613.8 L647.5 617.1 L652.5 617.4 L651.4 619.9 L651.2 622.2 L649.1 623.7 L648.7 626.8 L644.9 623.9 L644.2 627.3 L642.3 628.4 L644.4 630.9 L642.0 632.2 L641.6 635.0 L638.5 632.3 L638.4 637.2 L635.3 634.4 L635.1 639.0 L631.1 637.6 L632.3 640.8 L627.4 640.7 L628.9 643.7 L625.4 644.5 L626.2 648.1 M634.2 611.4 L638.4 614.2 L644.0 615.6 M632.8 624.0 L638.4 622.6 L641.2 629.6 L635.6 631.0 M642.6 601.6 L644.0 607.2 L641.2 610.0 M667.2 430.0 L665.1 430.8 L667.1 434.8 L662.8 433.9 L662.6 436.1 L660.1 436.3 L659.6 439.0 L657.2 439.1 L655.5 441.4 L652.6 441.6 L650.8 444.2 L647.8 442.5 L645.4 445.0 L644.5 441.7 L644.2 444.2 L641.9 445.6 L642.3 448.1 L640.0 449.5 L641.9 452.6 L639.1 453.8 L639.7 456.8 L636.1 457.4 L636.4 460.2 L633.8 461.9 L634.3 465.1 L631.7 466.9 L631.6 469.8 L627.8 470.5 L630.6 473.4 M647.4 470.2 L646.8 475.6 L648.0 481.6 L648.6 488.8 L648.0 492.4 M720.0 445.6 L716.9 443.3 L715.3 447.3 L712.2 447.4 L713.4 450.8 L710.1 448.2 L709.4 452.1 L707.1 453.6 L707.5 456.7 L704.9 457.7 L704.8 460.3 L701.6 460.8 L700.9 463.7 L698.0 464.0 L696.2 466.3 L692.3 465.9 L692.7 469.9 L689.4 470.2 L689.2 473.6 L685.9 473.9 L685.5 477.1 L683.0 477.4 L681.8 479.5 L678.8 479.9 L679.8 483.2 M662.4 504.4 L668.4 504.4 L668.4 508.0 L662.4 508.0 L662.4 504.4 M676.2 513.4 L678.6 517.0 M691.2 516.4 L693.6 517.6 M648.0 535.6 L652.8 532.0 M504.2 452.6 L507.8 452.6 M519.8 469.4 L521.4 471.2 L523.6 468.3 L525.1 470.9 L528.6 471.3 L527.4 474.9 L529.8 473.5 L532.1 475.4 L533.9 472.6 L536.0 474.0 L538.4 472.0 L539.6 476.2 L542.1 474.2 L544.1 476.1 L545.8 472.5 L548.0 474.7 L549.7 470.8 L552.9 473.2 M538.4 534.2 L533.6 542.0 L528.8 548.0 L527.0 552.2 M612.8 480.8 L611.6 485.6 L612.8 490.4 L616.4 489.2 L620.0 488.0 M620.0 468.8 L615.2 473.6 L612.8 480.8 M603.2 495.2 L608.0 494.0 L606.8 496.4 M550.4 440.0 L554.0 440.2 M570.8 440.0 L576.8 440.6" fill="none" stroke="#595959" stroke-width="1.6" stroke-linejoin="round" shape-rendering="crispEdges"/>
</svg>
<div style="position:absolute;left:887px;top:438px;width:108px;height:121px;border:1px solid #000;box-sizing:border-box;background:#fff"></div>
<div style="position:absolute;left:893px;top:449px;width:17px;height:17px;background:#2c7bb6"></div>
<div style="position:absolute;left:893px;top:466px;width:17px;height:18px;background:#abd9e9"></div>
<div style="position:absolute;left:893px;top:484px;width:17px;height:17px;background:#ffffbf"></div>
<div style="position:absolute;left:893px;top:501px;width:17px;height:17px;background:#fdae61"></div>
<div style="position:absolute;left:893px;top:518px;width:17px;height:17px;background:#d7191c"></div>
<div style="position:absolute;left:910px;top:449px;width:1px;height:105px;background:#000"></div>
<div style="position:absolute;left:893px;top:553px;width:18px;height:1px;background:#000"></div>
<div style="position:absolute;left:916px;top:451.8px;font-size:9.25px;line-height:17.2px;color:#000;white-space:nowrap">Greater than +1.5<br>&gt;0.25 to +1.5<br>&gt; -0.25 to 0.25<br>-1.5 to -0.25<br>Less than -1.5<br>NA</div>

</body></html>
